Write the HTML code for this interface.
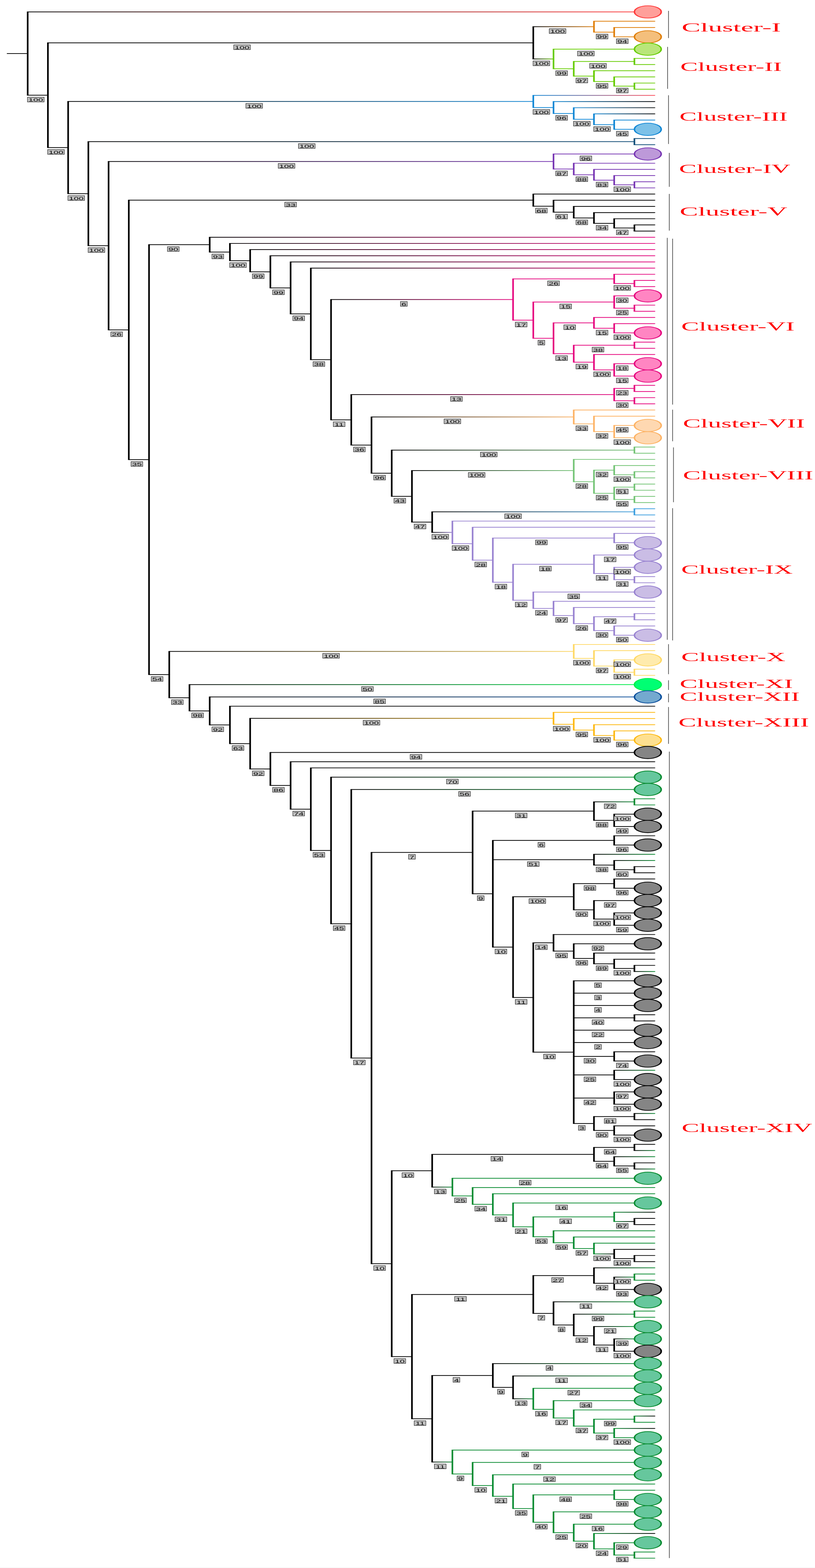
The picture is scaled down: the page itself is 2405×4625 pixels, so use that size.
<!DOCTYPE html>
<html lang="en">
<head>
<meta charset="utf-8">
<title>Phylogenetic tree with clusters</title>
<style>
html,body{margin:0;padding:0;background:#fff;}
body{width:2405px;height:4625px;overflow:hidden;}
svg{display:block;}
.lb rect{fill:#c0c0c0;stroke:#000;stroke-width:1.1;}
.lb text{font-family:"Liberation Sans",Arial,sans-serif;font-size:13.1px;fill:#000;text-anchor:middle;}
.cl text{font-family:"Liberation Serif","Times New Roman",serif;font-size:35.6px;fill:#ff0000;}
</style>
</head>
<body>
<svg width="2405" height="4625" viewBox="0 0 2405 4625">
<defs>
<linearGradient id="g0"><stop offset="0" stop-color="#000000"/><stop offset="1" stop-color="#ff3b3b"/></linearGradient>
<linearGradient id="g1"><stop offset="0" stop-color="#000000"/><stop offset="1" stop-color="#e07f0b"/></linearGradient>
<linearGradient id="g2"><stop offset="0" stop-color="#000000"/><stop offset="1" stop-color="#66cc00"/></linearGradient>
<linearGradient id="g3"><stop offset="0" stop-color="#000000"/><stop offset="1" stop-color="#1187d5"/></linearGradient>
<linearGradient id="g4"><stop offset="0" stop-color="#1187d5"/><stop offset="1" stop-color="#ff4d5a"/></linearGradient>
<linearGradient id="g5"><stop offset="0" stop-color="#1187d5"/><stop offset="1" stop-color="#000000"/></linearGradient>
<linearGradient id="g6"><stop offset="0" stop-color="#000000"/><stop offset="1" stop-color="#124f7a"/></linearGradient>
<linearGradient id="g7"><stop offset="0" stop-color="#000000"/><stop offset="1" stop-color="#7735b3"/></linearGradient>
<linearGradient id="g8"><stop offset="0" stop-color="#000000"/><stop offset="1" stop-color="#e6087f"/></linearGradient>
<linearGradient id="g9"><stop offset="0" stop-color="#000000"/><stop offset="1" stop-color="#fdb365"/></linearGradient>
<linearGradient id="g10"><stop offset="0" stop-color="#000000"/><stop offset="1" stop-color="#74c476"/></linearGradient>
<linearGradient id="g11"><stop offset="0" stop-color="#000000"/><stop offset="1" stop-color="#3fa0e0"/></linearGradient>
<linearGradient id="g12"><stop offset="0" stop-color="#000000"/><stop offset="1" stop-color="#9983d1"/></linearGradient>
<linearGradient id="g13"><stop offset="0" stop-color="#000000"/><stop offset="1" stop-color="#ffd966"/></linearGradient>
<linearGradient id="g14"><stop offset="0" stop-color="#000000"/><stop offset="1" stop-color="#00f04a"/></linearGradient>
<linearGradient id="g15"><stop offset="0" stop-color="#000000"/><stop offset="1" stop-color="#0b4f9c"/></linearGradient>
<linearGradient id="g16"><stop offset="0" stop-color="#000000"/><stop offset="1" stop-color="#fdb913"/></linearGradient>
<linearGradient id="g17"><stop offset="0" stop-color="#000000"/><stop offset="1" stop-color="#0a8c32"/></linearGradient>
<linearGradient id="g18"><stop offset="0" stop-color="#0a8c32"/><stop offset="1" stop-color="#000000"/></linearGradient>
</defs>
<rect width="2405" height="4625" fill="#fff"/>
<g shape-rendering="auto">
<rect x="81.7" y="34.01" width="1789.3" height="2.2" fill="url(#g0)"/>
<rect x="81.7" y="279.72" width="59.68" height="2.2" fill="#000000"/>
<rect x="141.38" y="125.27" width="1432.32" height="2.2" fill="#000000"/>
<rect x="1573.7" y="77.67" width="179.04" height="2.2" fill="url(#g1)"/>
<rect x="1752.74" y="61.59" width="181.06" height="2.2" fill="#e07f0b" rx="2" ry="1.1"/>
<rect x="1752.74" y="93.76" width="59.68" height="2.2" fill="#e07f0b"/>
<rect x="1812.42" y="79.97" width="121.38" height="2.2" fill="#e07f0b" rx="2" ry="1.1"/>
<rect x="1812.42" y="107.55" width="58.58" height="2.2" fill="#e07f0b"/>
<rect x="1573.7" y="172.86" width="59.68" height="2.2" fill="url(#g2)"/>
<rect x="1633.38" y="143.89" width="237.62" height="2.2" fill="#66cc00"/>
<rect x="1633.38" y="201.82" width="59.68" height="2.2" fill="#66cc00"/>
<rect x="1693.06" y="180.23" width="179.04" height="2.2" fill="#66cc00"/>
<rect x="1872.1" y="171.15" width="61.7" height="2.2" fill="#66cc00" rx="2" ry="1.1"/>
<rect x="1872.1" y="189.32" width="61.7" height="2.2" fill="#66cc00" rx="2" ry="1.1"/>
<rect x="1693.06" y="223.42" width="59.68" height="2.2" fill="#66cc00"/>
<rect x="1752.74" y="207.5" width="181.06" height="2.2" fill="#66cc00" rx="2" ry="1.1"/>
<rect x="1752.74" y="239.34" width="59.68" height="2.2" fill="#66cc00"/>
<rect x="1812.42" y="225.69" width="121.38" height="2.2" fill="#66cc00" rx="2" ry="1.1"/>
<rect x="1812.42" y="252.98" width="59.68" height="2.2" fill="#66cc00"/>
<rect x="1872.1" y="243.88" width="61.7" height="2.2" fill="#66cc00" rx="2" ry="1.1"/>
<rect x="1872.1" y="262.08" width="61.7" height="2.2" fill="#66cc00" rx="2" ry="1.1"/>
<rect x="141.38" y="434.17" width="59.68" height="2.2" fill="#000000"/>
<rect x="201.06" y="298.18" width="1372.64" height="2.2" fill="url(#g3)"/>
<rect x="1573.7" y="280.27" width="360.1" height="2.2" fill="url(#g4)" rx="2" ry="1.1"/>
<rect x="1573.7" y="316.09" width="59.68" height="2.2" fill="#1187d5"/>
<rect x="1633.38" y="298.46" width="300.42" height="2.2" fill="url(#g5)" rx="2" ry="1.1"/>
<rect x="1633.38" y="333.71" width="59.68" height="2.2" fill="#1187d5"/>
<rect x="1693.06" y="316.66" width="240.74" height="2.2" fill="url(#g5)" rx="2" ry="1.1"/>
<rect x="1693.06" y="350.77" width="59.68" height="2.2" fill="#1187d5"/>
<rect x="1752.74" y="334.85" width="181.06" height="2.2" fill="url(#g5)" rx="2" ry="1.1"/>
<rect x="1752.74" y="366.69" width="59.68" height="2.2" fill="#1187d5"/>
<rect x="1812.42" y="353.04" width="121.38" height="2.2" fill="#1187d5" rx="2" ry="1.1"/>
<rect x="1812.42" y="380.33" width="58.58" height="2.2" fill="#1187d5"/>
<rect x="201.06" y="570.17" width="59.68" height="2.2" fill="#000000"/>
<rect x="260.74" y="416.72" width="1611.36" height="2.2" fill="url(#g6)"/>
<rect x="1872.1" y="407.62" width="61.7" height="2.2" fill="#124f7a" rx="2" ry="1.1"/>
<rect x="1872.1" y="425.82" width="61.7" height="2.2" fill="#124f7a" rx="2" ry="1.1"/>
<rect x="260.74" y="723.62" width="59.68" height="2.2" fill="#000000"/>
<rect x="320.42" y="475.28" width="1312.96" height="2.2" fill="url(#g7)"/>
<rect x="1633.38" y="453.11" width="237.62" height="2.2" fill="#7735b3"/>
<rect x="1633.38" y="497.45" width="59.68" height="2.2" fill="#7735b3"/>
<rect x="1693.06" y="480.4" width="240.74" height="2.2" fill="#7735b3" rx="2" ry="1.1"/>
<rect x="1693.06" y="514.51" width="59.68" height="2.2" fill="#7735b3"/>
<rect x="1752.74" y="498.59" width="181.06" height="2.2" fill="#7735b3" rx="2" ry="1.1"/>
<rect x="1752.74" y="530.43" width="59.68" height="2.2" fill="#7735b3"/>
<rect x="1812.42" y="516.78" width="121.38" height="2.2" fill="#7735b3" rx="2" ry="1.1"/>
<rect x="1812.42" y="544.07" width="59.68" height="2.2" fill="#7735b3"/>
<rect x="1872.1" y="534.98" width="61.7" height="2.2" fill="#7735b3" rx="2" ry="1.1"/>
<rect x="1872.1" y="553.17" width="61.7" height="2.2" fill="#7735b3" rx="2" ry="1.1"/>
<rect x="320.42" y="971.96" width="59.68" height="2.2" fill="#000000"/>
<rect x="380.1" y="589.27" width="1193.6" height="2.2" fill="#000000"/>
<rect x="1573.7" y="571.36" width="360.1" height="2.2" fill="#000000" rx="2" ry="1.1"/>
<rect x="1573.7" y="607.18" width="59.68" height="2.2" fill="#000000"/>
<rect x="1633.38" y="589.56" width="300.42" height="2.2" fill="#000000" rx="2" ry="1.1"/>
<rect x="1633.38" y="624.81" width="59.68" height="2.2" fill="#000000"/>
<rect x="1693.06" y="607.75" width="240.74" height="2.2" fill="#000000" rx="2" ry="1.1"/>
<rect x="1693.06" y="641.86" width="59.68" height="2.2" fill="#000000"/>
<rect x="1752.74" y="625.94" width="181.06" height="2.2" fill="#000000" rx="2" ry="1.1"/>
<rect x="1752.74" y="657.78" width="59.68" height="2.2" fill="#000000"/>
<rect x="1812.42" y="644.14" width="121.38" height="2.2" fill="#000000" rx="2" ry="1.1"/>
<rect x="1812.42" y="671.43" width="59.68" height="2.2" fill="#000000"/>
<rect x="1872.1" y="662.33" width="61.7" height="2.2" fill="#000000" rx="2" ry="1.1"/>
<rect x="1872.1" y="680.52" width="61.7" height="2.2" fill="#000000" rx="2" ry="1.1"/>
<rect x="380.1" y="1354.64" width="59.68" height="2.2" fill="#000000"/>
<rect x="439.78" y="720.56" width="179.04" height="2.2" fill="#000000"/>
<rect x="618.82" y="698.72" width="1314.98" height="2.2" fill="url(#g8)" rx="2" ry="1.1"/>
<rect x="618.82" y="742.41" width="59.68" height="2.2" fill="#000000"/>
<rect x="678.5" y="716.91" width="1255.3" height="2.2" fill="url(#g8)" rx="2" ry="1.1"/>
<rect x="678.5" y="767.91" width="59.68" height="2.2" fill="#000000"/>
<rect x="738.18" y="735.1" width="1195.62" height="2.2" fill="url(#g8)" rx="2" ry="1.1"/>
<rect x="738.18" y="800.72" width="59.68" height="2.2" fill="#000000"/>
<rect x="797.86" y="753.3" width="1135.94" height="2.2" fill="url(#g8)" rx="2" ry="1.1"/>
<rect x="797.86" y="848.14" width="59.68" height="2.2" fill="#000000"/>
<rect x="857.54" y="771.5" width="1076.26" height="2.2" fill="url(#g8)" rx="2" ry="1.1"/>
<rect x="857.54" y="924.77" width="59.68" height="2.2" fill="#000000"/>
<rect x="917.22" y="789.7" width="1016.58" height="2.2" fill="url(#g8)" rx="2" ry="1.1"/>
<rect x="917.22" y="1059.85" width="59.68" height="2.2" fill="#000000"/>
<rect x="976.9" y="882.41" width="537.12" height="2.2" fill="url(#g8)"/>
<rect x="1514.02" y="821.55" width="298.4" height="2.2" fill="#e6087f"/>
<rect x="1812.42" y="807.9" width="121.38" height="2.2" fill="#e6087f" rx="2" ry="1.1"/>
<rect x="1812.42" y="835.2" width="59.68" height="2.2" fill="#e6087f"/>
<rect x="1872.1" y="826.1" width="61.7" height="2.2" fill="#e6087f" rx="2" ry="1.1"/>
<rect x="1872.1" y="844.3" width="61.7" height="2.2" fill="#e6087f" rx="2" ry="1.1"/>
<rect x="1514.02" y="943.26" width="59.68" height="2.2" fill="#e6087f"/>
<rect x="1573.7" y="889.8" width="238.72" height="2.2" fill="#e6087f"/>
<rect x="1812.42" y="871.6" width="58.58" height="2.2" fill="#e6087f"/>
<rect x="1812.42" y="908" width="59.68" height="2.2" fill="#e6087f"/>
<rect x="1872.1" y="898.9" width="61.7" height="2.2" fill="#e6087f" rx="2" ry="1.1"/>
<rect x="1872.1" y="917.1" width="61.7" height="2.2" fill="#e6087f" rx="2" ry="1.1"/>
<rect x="1573.7" y="996.73" width="59.68" height="2.2" fill="#e6087f"/>
<rect x="1633.38" y="951.23" width="119.36" height="2.2" fill="#e6087f"/>
<rect x="1752.74" y="935.3" width="181.06" height="2.2" fill="#e6087f" rx="2" ry="1.1"/>
<rect x="1752.74" y="967.15" width="59.68" height="2.2" fill="#e6087f"/>
<rect x="1812.42" y="953.5" width="121.38" height="2.2" fill="#e6087f" rx="2" ry="1.1"/>
<rect x="1812.42" y="980.8" width="58.58" height="2.2" fill="#e6087f"/>
<rect x="1633.38" y="1042.23" width="59.68" height="2.2" fill="#e6087f"/>
<rect x="1693.06" y="1017.2" width="179.04" height="2.2" fill="#e6087f"/>
<rect x="1872.1" y="1008.1" width="61.7" height="2.2" fill="#e6087f" rx="2" ry="1.1"/>
<rect x="1872.1" y="1026.3" width="61.7" height="2.2" fill="#e6087f" rx="2" ry="1.1"/>
<rect x="1693.06" y="1067.25" width="59.68" height="2.2" fill="#e6087f"/>
<rect x="1752.74" y="1044.5" width="181.06" height="2.2" fill="#e6087f" rx="2" ry="1.1"/>
<rect x="1752.74" y="1090" width="59.68" height="2.2" fill="#e6087f"/>
<rect x="1812.42" y="1071.8" width="58.58" height="2.2" fill="#e6087f"/>
<rect x="1812.42" y="1108.2" width="58.58" height="2.2" fill="#e6087f"/>
<rect x="976.9" y="1237.29" width="59.68" height="2.2" fill="#000000"/>
<rect x="1036.58" y="1162.8" width="775.84" height="2.2" fill="url(#g8)"/>
<rect x="1812.42" y="1144.6" width="59.68" height="2.2" fill="#e6087f"/>
<rect x="1872.1" y="1135.5" width="61.7" height="2.2" fill="#e6087f" rx="2" ry="1.1"/>
<rect x="1872.1" y="1153.7" width="61.7" height="2.2" fill="#e6087f" rx="2" ry="1.1"/>
<rect x="1812.42" y="1181" width="59.68" height="2.2" fill="#e6087f"/>
<rect x="1872.1" y="1171.9" width="61.7" height="2.2" fill="#e6087f" rx="2" ry="1.1"/>
<rect x="1872.1" y="1190.1" width="61.7" height="2.2" fill="#e6087f" rx="2" ry="1.1"/>
<rect x="1036.58" y="1311.77" width="59.68" height="2.2" fill="#000000"/>
<rect x="1096.26" y="1228.78" width="596.8" height="2.2" fill="url(#g9)"/>
<rect x="1693.06" y="1208.3" width="240.74" height="2.2" fill="#fdb365" rx="2" ry="1.1"/>
<rect x="1693.06" y="1249.25" width="59.68" height="2.2" fill="#fdb365"/>
<rect x="1752.74" y="1226.5" width="181.06" height="2.2" fill="#fdb365" rx="2" ry="1.1"/>
<rect x="1752.74" y="1272" width="59.68" height="2.2" fill="#fdb365"/>
<rect x="1812.42" y="1253.8" width="58.58" height="2.2" fill="#fdb365"/>
<rect x="1812.42" y="1290.2" width="58.58" height="2.2" fill="#fdb365"/>
<rect x="1096.26" y="1394.76" width="59.68" height="2.2" fill="#000000"/>
<rect x="1155.94" y="1326.6" width="716.16" height="2.2" fill="url(#g10)"/>
<rect x="1872.1" y="1317.5" width="61.7" height="2.2" fill="#74c476" rx="2" ry="1.1"/>
<rect x="1872.1" y="1335.7" width="61.7" height="2.2" fill="#74c476" rx="2" ry="1.1"/>
<rect x="1155.94" y="1462.91" width="59.68" height="2.2" fill="#000000"/>
<rect x="1215.62" y="1386.89" width="477.44" height="2.2" fill="url(#g10)"/>
<rect x="1693.06" y="1353.9" width="240.74" height="2.2" fill="#74c476" rx="2" ry="1.1"/>
<rect x="1693.06" y="1419.88" width="59.68" height="2.2" fill="#74c476"/>
<rect x="1752.74" y="1385.75" width="59.68" height="2.2" fill="#74c476"/>
<rect x="1812.42" y="1372.1" width="121.38" height="2.2" fill="#74c476" rx="2" ry="1.1"/>
<rect x="1812.42" y="1399.4" width="59.68" height="2.2" fill="#74c476"/>
<rect x="1872.1" y="1390.3" width="61.7" height="2.2" fill="#74c476" rx="2" ry="1.1"/>
<rect x="1872.1" y="1408.5" width="61.7" height="2.2" fill="#74c476" rx="2" ry="1.1"/>
<rect x="1752.74" y="1454" width="59.68" height="2.2" fill="#74c476"/>
<rect x="1812.42" y="1435.8" width="59.68" height="2.2" fill="#74c476"/>
<rect x="1872.1" y="1426.7" width="61.7" height="2.2" fill="#74c476" rx="2" ry="1.1"/>
<rect x="1872.1" y="1444.9" width="61.7" height="2.2" fill="#74c476" rx="2" ry="1.1"/>
<rect x="1812.42" y="1472.2" width="59.68" height="2.2" fill="#74c476"/>
<rect x="1872.1" y="1463.1" width="61.7" height="2.2" fill="#74c476" rx="2" ry="1.1"/>
<rect x="1872.1" y="1481.31" width="61.7" height="2.2" fill="#74c476" rx="2" ry="1.1"/>
<rect x="1215.62" y="1538.94" width="59.68" height="2.2" fill="#000000"/>
<rect x="1275.3" y="1508.61" width="596.8" height="2.2" fill="url(#g11)"/>
<rect x="1872.1" y="1499.51" width="61.7" height="2.2" fill="#3fa0e0" rx="2" ry="1.1"/>
<rect x="1872.1" y="1517.71" width="61.7" height="2.2" fill="#3fa0e0" rx="2" ry="1.1"/>
<rect x="1275.3" y="1569.27" width="59.68" height="2.2" fill="url(#g12)"/>
<rect x="1334.98" y="1535.91" width="598.82" height="2.2" fill="#9983d1" rx="2" ry="1.1"/>
<rect x="1334.98" y="1602.63" width="59.68" height="2.2" fill="#9983d1"/>
<rect x="1394.66" y="1554.11" width="539.14" height="2.2" fill="#9983d1" rx="2" ry="1.1"/>
<rect x="1394.66" y="1651.15" width="59.68" height="2.2" fill="#9983d1"/>
<rect x="1454.34" y="1585.96" width="358.08" height="2.2" fill="#9983d1"/>
<rect x="1812.42" y="1572.31" width="121.38" height="2.2" fill="#9983d1" rx="2" ry="1.1"/>
<rect x="1812.42" y="1599.61" width="58.58" height="2.2" fill="#9983d1"/>
<rect x="1454.34" y="1716.34" width="59.68" height="2.2" fill="#9983d1"/>
<rect x="1514.02" y="1663.31" width="238.72" height="2.2" fill="#9983d1"/>
<rect x="1752.74" y="1636.01" width="118.26" height="2.2" fill="#9983d1"/>
<rect x="1752.74" y="1690.61" width="59.68" height="2.2" fill="#9983d1"/>
<rect x="1812.42" y="1672.41" width="58.58" height="2.2" fill="#9983d1"/>
<rect x="1812.42" y="1708.81" width="59.68" height="2.2" fill="#9983d1"/>
<rect x="1872.1" y="1699.71" width="61.7" height="2.2" fill="#9983d1" rx="2" ry="1.1"/>
<rect x="1872.1" y="1717.91" width="61.7" height="2.2" fill="#9983d1" rx="2" ry="1.1"/>
<rect x="1514.02" y="1769.38" width="59.68" height="2.2" fill="#9983d1"/>
<rect x="1573.7" y="1745.21" width="297.3" height="2.2" fill="#9983d1"/>
<rect x="1573.7" y="1793.55" width="59.68" height="2.2" fill="#9983d1"/>
<rect x="1633.38" y="1772.51" width="300.42" height="2.2" fill="#9983d1" rx="2" ry="1.1"/>
<rect x="1633.38" y="1814.59" width="59.68" height="2.2" fill="#9983d1"/>
<rect x="1693.06" y="1790.71" width="240.74" height="2.2" fill="#9983d1" rx="2" ry="1.1"/>
<rect x="1693.06" y="1838.48" width="59.68" height="2.2" fill="#9983d1"/>
<rect x="1752.74" y="1818.01" width="119.36" height="2.2" fill="#9983d1"/>
<rect x="1872.1" y="1808.91" width="61.7" height="2.2" fill="#9983d1" rx="2" ry="1.1"/>
<rect x="1872.1" y="1827.11" width="61.7" height="2.2" fill="#9983d1" rx="2" ry="1.1"/>
<rect x="1752.74" y="1858.96" width="59.68" height="2.2" fill="#9983d1"/>
<rect x="1812.42" y="1845.31" width="121.38" height="2.2" fill="#9983d1" rx="2" ry="1.1"/>
<rect x="1812.42" y="1872.61" width="58.58" height="2.2" fill="#9983d1"/>
<rect x="439.78" y="1988.71" width="59.68" height="2.2" fill="#000000"/>
<rect x="499.46" y="1920.38" width="1193.6" height="2.2" fill="url(#g13)"/>
<rect x="1693.06" y="1899.91" width="240.74" height="2.2" fill="#ffd966" rx="2" ry="1.1"/>
<rect x="1693.06" y="1940.86" width="59.68" height="2.2" fill="#ffd966"/>
<rect x="1752.74" y="1918.11" width="181.06" height="2.2" fill="#ffd966" rx="2" ry="1.1"/>
<rect x="1752.74" y="1963.61" width="59.68" height="2.2" fill="#ffd966"/>
<rect x="1812.42" y="1945.41" width="58.58" height="2.2" fill="#ffd966"/>
<rect x="1812.42" y="1981.81" width="59.68" height="2.2" fill="#ffd966"/>
<rect x="1872.1" y="1972.71" width="61.7" height="2.2" fill="#ffd966" rx="2" ry="1.1"/>
<rect x="1872.1" y="1990.91" width="61.7" height="2.2" fill="#ffd966" rx="2" ry="1.1"/>
<rect x="499.46" y="2057.04" width="59.68" height="2.2" fill="#000000"/>
<rect x="559.14" y="2018.21" width="1311.86" height="2.2" fill="url(#g14)"/>
<rect x="559.14" y="2095.88" width="59.68" height="2.2" fill="#000000"/>
<rect x="618.82" y="2054.61" width="1252.18" height="2.2" fill="url(#g15)"/>
<rect x="618.82" y="2137.15" width="59.68" height="2.2" fill="#000000"/>
<rect x="678.5" y="2081.91" width="1255.3" height="2.2" fill="#000000" rx="2" ry="1.1"/>
<rect x="678.5" y="2192.4" width="59.68" height="2.2" fill="#000000"/>
<rect x="738.18" y="2117.74" width="895.2" height="2.2" fill="url(#g16)"/>
<rect x="1633.38" y="2100.11" width="300.42" height="2.2" fill="#fdb913" rx="2" ry="1.1"/>
<rect x="1633.38" y="2135.37" width="59.68" height="2.2" fill="#fdb913"/>
<rect x="1693.06" y="2118.31" width="240.74" height="2.2" fill="#fdb913" rx="2" ry="1.1"/>
<rect x="1693.06" y="2152.43" width="59.68" height="2.2" fill="#fdb913"/>
<rect x="1752.74" y="2136.51" width="181.06" height="2.2" fill="#fdb913" rx="2" ry="1.1"/>
<rect x="1752.74" y="2168.36" width="59.68" height="2.2" fill="#fdb913"/>
<rect x="1812.42" y="2154.71" width="121.38" height="2.2" fill="#fdb913" rx="2" ry="1.1"/>
<rect x="1812.42" y="2182.01" width="58.58" height="2.2" fill="#fdb913"/>
<rect x="738.18" y="2267.06" width="59.68" height="2.2" fill="#000000"/>
<rect x="797.86" y="2218.41" width="1073.14" height="2.2" fill="#000000"/>
<rect x="797.86" y="2315.7" width="59.68" height="2.2" fill="#000000"/>
<rect x="857.54" y="2245.71" width="1076.26" height="2.2" fill="#000000" rx="2" ry="1.1"/>
<rect x="857.54" y="2385.69" width="59.68" height="2.2" fill="#000000"/>
<rect x="917.22" y="2263.92" width="1016.58" height="2.2" fill="#000000" rx="2" ry="1.1"/>
<rect x="917.22" y="2507.46" width="59.68" height="2.2" fill="#000000"/>
<rect x="976.9" y="2291.22" width="894.1" height="2.2" fill="url(#g17)"/>
<rect x="976.9" y="2723.7" width="59.68" height="2.2" fill="#000000"/>
<rect x="1036.58" y="2327.63" width="834.42" height="2.2" fill="url(#g17)"/>
<rect x="1036.58" y="3119.77" width="59.68" height="2.2" fill="#000000"/>
<rect x="1096.26" y="2513.24" width="298.4" height="2.2" fill="#000000"/>
<rect x="1394.66" y="2391.34" width="358.08" height="2.2" fill="#000000"/>
<rect x="1752.74" y="2364.03" width="119.36" height="2.2" fill="url(#g17)"/>
<rect x="1872.1" y="2354.93" width="61.7" height="2.2" fill="#0a8c32" rx="2" ry="1.1"/>
<rect x="1872.1" y="2373.13" width="61.7" height="2.2" fill="#0a8c32" rx="2" ry="1.1"/>
<rect x="1752.74" y="2418.64" width="59.68" height="2.2" fill="#000000"/>
<rect x="1812.42" y="2400.44" width="58.58" height="2.2" fill="#000000"/>
<rect x="1812.42" y="2436.84" width="58.58" height="2.2" fill="#000000"/>
<rect x="1394.66" y="2635.15" width="59.68" height="2.2" fill="#000000"/>
<rect x="1454.34" y="2477.8" width="358.08" height="2.2" fill="#000000"/>
<rect x="1812.42" y="2464.15" width="121.38" height="2.2" fill="#000000" rx="2" ry="1.1"/>
<rect x="1812.42" y="2491.45" width="58.58" height="2.2" fill="#000000"/>
<rect x="1454.34" y="2534.68" width="298.4" height="2.2" fill="#000000"/>
<rect x="1752.74" y="2518.76" width="181.06" height="2.2" fill="url(#g17)" rx="2" ry="1.1"/>
<rect x="1752.74" y="2550.61" width="59.68" height="2.2" fill="#000000"/>
<rect x="1812.42" y="2536.96" width="121.38" height="2.2" fill="url(#g17)" rx="2" ry="1.1"/>
<rect x="1812.42" y="2564.26" width="59.68" height="2.2" fill="#000000"/>
<rect x="1872.1" y="2555.16" width="61.7" height="2.2" fill="#000000" rx="2" ry="1.1"/>
<rect x="1872.1" y="2573.36" width="61.7" height="2.2" fill="#000000" rx="2" ry="1.1"/>
<rect x="1454.34" y="2792.51" width="59.68" height="2.2" fill="#000000"/>
<rect x="1514.02" y="2643.9" width="179.04" height="2.2" fill="#000000"/>
<rect x="1693.06" y="2605.22" width="119.36" height="2.2" fill="#000000"/>
<rect x="1812.42" y="2591.57" width="121.38" height="2.2" fill="#000000" rx="2" ry="1.1"/>
<rect x="1812.42" y="2618.87" width="58.58" height="2.2" fill="#000000"/>
<rect x="1693.06" y="2682.58" width="59.68" height="2.2" fill="#000000"/>
<rect x="1752.74" y="2655.28" width="118.26" height="2.2" fill="#000000"/>
<rect x="1752.74" y="2709.88" width="59.68" height="2.2" fill="#000000"/>
<rect x="1812.42" y="2691.68" width="58.58" height="2.2" fill="#000000"/>
<rect x="1812.42" y="2728.09" width="58.58" height="2.2" fill="#000000"/>
<rect x="1514.02" y="2941.12" width="59.68" height="2.2" fill="#000000"/>
<rect x="1573.7" y="2779.85" width="59.68" height="2.2" fill="#000000"/>
<rect x="1633.38" y="2755.39" width="300.42" height="2.2" fill="#000000" rx="2" ry="1.1"/>
<rect x="1633.38" y="2804.31" width="59.68" height="2.2" fill="#000000"/>
<rect x="1693.06" y="2782.7" width="177.94" height="2.2" fill="#000000"/>
<rect x="1693.06" y="2825.93" width="59.68" height="2.2" fill="#000000"/>
<rect x="1752.74" y="2810" width="181.06" height="2.2" fill="#000000" rx="2" ry="1.1"/>
<rect x="1752.74" y="2841.85" width="59.68" height="2.2" fill="#000000"/>
<rect x="1812.42" y="2828.2" width="121.38" height="2.2" fill="#000000" rx="2" ry="1.1"/>
<rect x="1812.42" y="2855.51" width="59.68" height="2.2" fill="#000000"/>
<rect x="1872.1" y="2846.41" width="61.7" height="2.2" fill="#000000" rx="2" ry="1.1"/>
<rect x="1872.1" y="2864.61" width="61.7" height="2.2" fill="url(#g17)" rx="2" ry="1.1"/>
<rect x="1573.7" y="3102.38" width="119.36" height="2.2" fill="#000000"/>
<rect x="1693.06" y="2891.91" width="177.94" height="2.2" fill="#000000"/>
<rect x="1693.06" y="2928.32" width="177.94" height="2.2" fill="#000000"/>
<rect x="1693.06" y="2964.72" width="177.94" height="2.2" fill="#000000"/>
<rect x="1693.06" y="3001.13" width="179.04" height="2.2" fill="#000000"/>
<rect x="1872.1" y="2992.03" width="61.7" height="2.2" fill="#000000" rx="2" ry="1.1"/>
<rect x="1872.1" y="3010.23" width="61.7" height="2.2" fill="#000000" rx="2" ry="1.1"/>
<rect x="1693.06" y="3037.53" width="177.94" height="2.2" fill="#000000"/>
<rect x="1693.06" y="3073.94" width="177.94" height="2.2" fill="#000000"/>
<rect x="1693.06" y="3114.9" width="119.36" height="2.2" fill="#000000"/>
<rect x="1812.42" y="3101.24" width="121.38" height="2.2" fill="#000000" rx="2" ry="1.1"/>
<rect x="1812.42" y="3128.55" width="58.58" height="2.2" fill="#000000"/>
<rect x="1693.06" y="3169.5" width="119.36" height="2.2" fill="#000000"/>
<rect x="1812.42" y="3155.85" width="121.38" height="2.2" fill="url(#g17)" rx="2" ry="1.1"/>
<rect x="1812.42" y="3183.16" width="58.58" height="2.2" fill="#000000"/>
<rect x="1693.06" y="3237.76" width="119.36" height="2.2" fill="#000000"/>
<rect x="1812.42" y="3219.56" width="58.58" height="2.2" fill="#000000"/>
<rect x="1812.42" y="3255.97" width="58.58" height="2.2" fill="#000000"/>
<rect x="1693.06" y="3312.85" width="59.68" height="2.2" fill="#000000"/>
<rect x="1752.74" y="3292.37" width="119.36" height="2.2" fill="#000000"/>
<rect x="1872.1" y="3283.27" width="61.7" height="2.2" fill="url(#g17)" rx="2" ry="1.1"/>
<rect x="1872.1" y="3301.47" width="61.7" height="2.2" fill="#000000" rx="2" ry="1.1"/>
<rect x="1752.74" y="3333.33" width="59.68" height="2.2" fill="#000000"/>
<rect x="1812.42" y="3319.68" width="121.38" height="2.2" fill="#000000" rx="2" ry="1.1"/>
<rect x="1812.42" y="3346.98" width="58.58" height="2.2" fill="#000000"/>
<rect x="1096.26" y="3726.29" width="59.68" height="2.2" fill="#000000"/>
<rect x="1155.94" y="3452.15" width="119.36" height="2.2" fill="#000000"/>
<rect x="1275.3" y="3403.86" width="477.44" height="2.2" fill="#000000"/>
<rect x="1752.74" y="3383.39" width="119.36" height="2.2" fill="#000000"/>
<rect x="1872.1" y="3374.28" width="61.7" height="2.2" fill="#000000" rx="2" ry="1.1"/>
<rect x="1872.1" y="3392.49" width="61.7" height="2.2" fill="url(#g17)" rx="2" ry="1.1"/>
<rect x="1752.74" y="3424.34" width="59.68" height="2.2" fill="#000000"/>
<rect x="1812.42" y="3410.69" width="121.38" height="2.2" fill="url(#g17)" rx="2" ry="1.1"/>
<rect x="1812.42" y="3437.99" width="59.68" height="2.2" fill="#000000"/>
<rect x="1872.1" y="3428.89" width="61.7" height="2.2" fill="#000000" rx="2" ry="1.1"/>
<rect x="1872.1" y="3447.1" width="61.7" height="2.2" fill="url(#g17)" rx="2" ry="1.1"/>
<rect x="1275.3" y="3500.43" width="59.68" height="2.2" fill="url(#g17)"/>
<rect x="1334.98" y="3474.4" width="536.02" height="2.2" fill="#0a8c32"/>
<rect x="1334.98" y="3526.46" width="59.68" height="2.2" fill="#0a8c32"/>
<rect x="1394.66" y="3501.73" width="539.14" height="2.2" fill="#0a8c32" rx="2" ry="1.1"/>
<rect x="1394.66" y="3551.19" width="59.68" height="2.2" fill="#0a8c32"/>
<rect x="1454.34" y="3519.95" width="479.46" height="2.2" fill="#0a8c32" rx="2" ry="1.1"/>
<rect x="1454.34" y="3582.44" width="59.68" height="2.2" fill="#0a8c32"/>
<rect x="1514.02" y="3547.28" width="356.98" height="2.2" fill="#0a8c32"/>
<rect x="1514.02" y="3617.6" width="59.68" height="2.2" fill="#0a8c32"/>
<rect x="1573.7" y="3588.27" width="238.72" height="2.2" fill="#0a8c32"/>
<rect x="1812.42" y="3574.61" width="121.38" height="2.2" fill="url(#g18)" rx="2" ry="1.1"/>
<rect x="1812.42" y="3601.94" width="59.68" height="2.2" fill="url(#g18)"/>
<rect x="1872.1" y="3592.83" width="61.7" height="2.2" fill="#000000" rx="2" ry="1.1"/>
<rect x="1872.1" y="3611.05" width="61.7" height="2.2" fill="#000000" rx="2" ry="1.1"/>
<rect x="1573.7" y="3646.92" width="59.68" height="2.2" fill="#0a8c32"/>
<rect x="1633.38" y="3629.27" width="300.42" height="2.2" fill="#0a8c32" rx="2" ry="1.1"/>
<rect x="1633.38" y="3664.57" width="59.68" height="2.2" fill="#0a8c32"/>
<rect x="1693.06" y="3647.49" width="240.74" height="2.2" fill="#0a8c32" rx="2" ry="1.1"/>
<rect x="1693.06" y="3681.65" width="59.68" height="2.2" fill="#0a8c32"/>
<rect x="1752.74" y="3665.71" width="181.06" height="2.2" fill="#0a8c32" rx="2" ry="1.1"/>
<rect x="1752.74" y="3697.59" width="59.68" height="2.2" fill="url(#g18)"/>
<rect x="1812.42" y="3683.93" width="121.38" height="2.2" fill="#000000" rx="2" ry="1.1"/>
<rect x="1812.42" y="3711.26" width="59.68" height="2.2" fill="#000000"/>
<rect x="1872.1" y="3702.15" width="61.7" height="2.2" fill="#000000" rx="2" ry="1.1"/>
<rect x="1872.1" y="3720.37" width="61.7" height="2.2" fill="#000000" rx="2" ry="1.1"/>
<rect x="1155.94" y="4000.43" width="59.68" height="2.2" fill="#000000"/>
<rect x="1215.62" y="3817.16" width="358.08" height="2.2" fill="#000000"/>
<rect x="1573.7" y="3761.36" width="179.04" height="2.2" fill="#000000"/>
<rect x="1752.74" y="3738.59" width="181.06" height="2.2" fill="url(#g17)" rx="2" ry="1.1"/>
<rect x="1752.74" y="3784.13" width="59.68" height="2.2" fill="#000000"/>
<rect x="1812.42" y="3765.91" width="59.68" height="2.2" fill="url(#g17)"/>
<rect x="1872.1" y="3756.81" width="61.7" height="2.2" fill="#0a8c32" rx="2" ry="1.1"/>
<rect x="1872.1" y="3775.02" width="61.7" height="2.2" fill="#0a8c32" rx="2" ry="1.1"/>
<rect x="1812.42" y="3802.35" width="58.58" height="2.2" fill="#000000"/>
<rect x="1573.7" y="3872.96" width="59.68" height="2.2" fill="#000000"/>
<rect x="1633.38" y="3838.79" width="237.62" height="2.2" fill="url(#g17)"/>
<rect x="1633.38" y="3907.12" width="59.68" height="2.2" fill="#000000"/>
<rect x="1693.06" y="3875.23" width="179.04" height="2.2" fill="url(#g17)"/>
<rect x="1872.1" y="3866.12" width="61.7" height="2.2" fill="#0a8c32" rx="2" ry="1.1"/>
<rect x="1872.1" y="3884.34" width="61.7" height="2.2" fill="#0a8c32" rx="2" ry="1.1"/>
<rect x="1693.06" y="3939" width="59.68" height="2.2" fill="#000000"/>
<rect x="1752.74" y="3911.67" width="118.26" height="2.2" fill="url(#g17)"/>
<rect x="1752.74" y="3966.33" width="59.68" height="2.2" fill="#000000"/>
<rect x="1812.42" y="3948.11" width="58.58" height="2.2" fill="url(#g17)"/>
<rect x="1812.42" y="3984.55" width="58.58" height="2.2" fill="#000000"/>
<rect x="1215.62" y="4183.7" width="59.68" height="2.2" fill="#000000"/>
<rect x="1275.3" y="4056.08" width="179.04" height="2.2" fill="#000000"/>
<rect x="1454.34" y="4020.99" width="416.66" height="2.2" fill="url(#g17)"/>
<rect x="1454.34" y="4091.16" width="59.68" height="2.2" fill="#000000"/>
<rect x="1514.02" y="4057.43" width="356.98" height="2.2" fill="url(#g17)"/>
<rect x="1514.02" y="4124.9" width="59.68" height="2.2" fill="url(#g17)"/>
<rect x="1573.7" y="4093.87" width="297.3" height="2.2" fill="#0a8c32"/>
<rect x="1573.7" y="4155.93" width="59.68" height="2.2" fill="#0a8c32"/>
<rect x="1633.38" y="4130.31" width="237.62" height="2.2" fill="#0a8c32"/>
<rect x="1633.38" y="4181.55" width="59.68" height="2.2" fill="#0a8c32"/>
<rect x="1693.06" y="4157.64" width="240.74" height="2.2" fill="#0a8c32" rx="2" ry="1.1"/>
<rect x="1693.06" y="4205.46" width="59.68" height="2.2" fill="#0a8c32"/>
<rect x="1752.74" y="4184.97" width="119.36" height="2.2" fill="#0a8c32"/>
<rect x="1872.1" y="4175.86" width="61.7" height="2.2" fill="url(#g18)" rx="2" ry="1.1"/>
<rect x="1872.1" y="4194.08" width="61.7" height="2.2" fill="#0a8c32" rx="2" ry="1.1"/>
<rect x="1752.74" y="4225.96" width="59.68" height="2.2" fill="#0a8c32"/>
<rect x="1812.42" y="4212.3" width="121.38" height="2.2" fill="url(#g18)" rx="2" ry="1.1"/>
<rect x="1812.42" y="4239.63" width="58.58" height="2.2" fill="#0a8c32"/>
<rect x="1275.3" y="4311.33" width="59.68" height="2.2" fill="url(#g17)"/>
<rect x="1334.98" y="4276.07" width="536.02" height="2.2" fill="#0a8c32"/>
<rect x="1334.98" y="4346.6" width="59.68" height="2.2" fill="#0a8c32"/>
<rect x="1394.66" y="4312.51" width="476.34" height="2.2" fill="#0a8c32"/>
<rect x="1394.66" y="4380.69" width="59.68" height="2.2" fill="#0a8c32"/>
<rect x="1454.34" y="4348.94" width="416.66" height="2.2" fill="#0a8c32"/>
<rect x="1454.34" y="4412.43" width="59.68" height="2.2" fill="#0a8c32"/>
<rect x="1514.02" y="4376.27" width="419.78" height="2.2" fill="#0a8c32" rx="2" ry="1.1"/>
<rect x="1514.02" y="4448.58" width="59.68" height="2.2" fill="#0a8c32"/>
<rect x="1573.7" y="4408.16" width="238.72" height="2.2" fill="#0a8c32"/>
<rect x="1812.42" y="4394.49" width="121.38" height="2.2" fill="#0a8c32" rx="2" ry="1.1"/>
<rect x="1812.42" y="4421.82" width="58.58" height="2.2" fill="#0a8c32"/>
<rect x="1573.7" y="4489.01" width="59.68" height="2.2" fill="#0a8c32"/>
<rect x="1633.38" y="4458.26" width="237.62" height="2.2" fill="#0a8c32"/>
<rect x="1633.38" y="4519.75" width="59.68" height="2.2" fill="#0a8c32"/>
<rect x="1693.06" y="4494.7" width="177.94" height="2.2" fill="#0a8c32"/>
<rect x="1693.06" y="4544.81" width="59.68" height="2.2" fill="#0a8c32"/>
<rect x="1752.74" y="4522.03" width="181.06" height="2.2" fill="url(#g18)" rx="2" ry="1.1"/>
<rect x="1752.74" y="4567.58" width="59.68" height="2.2" fill="#0a8c32"/>
<rect x="1812.42" y="4549.36" width="58.58" height="2.2" fill="#0a8c32"/>
<rect x="1812.42" y="4585.8" width="59.68" height="2.2" fill="#0a8c32"/>
<rect x="1872.1" y="4576.69" width="61.7" height="2.2" fill="#0a8c32" rx="2" ry="1.1"/>
<rect x="1872.1" y="4594.91" width="61.7" height="2.2" fill="#0a8c32" rx="2" ry="1.1"/>
<rect x="20.2" y="156.91" width="61.5" height="2.1" fill="#000"/>
<rect x="79.3" y="34.01" width="4.8" height="247.91" fill="#000000"/>
<rect x="138.98" y="125.27" width="4.8" height="311.11" fill="#000000"/>
<rect x="1571.3" y="77.67" width="4.8" height="97.38" fill="#000000"/>
<rect x="1750.34" y="61.59" width="4.8" height="34.37" fill="#e07f0b"/>
<rect x="1810.02" y="79.97" width="4.8" height="29.78" fill="#e07f0b"/>
<rect x="1630.98" y="143.89" width="4.8" height="60.13" fill="#66cc00"/>
<rect x="1690.66" y="180.23" width="4.8" height="45.39" fill="#66cc00"/>
<rect x="1869.7" y="171.15" width="4.8" height="20.37" fill="#66cc00"/>
<rect x="1750.34" y="207.5" width="4.8" height="34.04" fill="#66cc00"/>
<rect x="1810.02" y="225.69" width="4.8" height="29.49" fill="#66cc00"/>
<rect x="1869.7" y="243.88" width="4.8" height="20.39" fill="#66cc00"/>
<rect x="198.66" y="298.18" width="4.8" height="274.19" fill="#000000"/>
<rect x="1571.3" y="280.27" width="4.8" height="38.02" fill="#1187d5"/>
<rect x="1630.98" y="298.46" width="4.8" height="37.45" fill="#1187d5"/>
<rect x="1690.66" y="316.66" width="4.8" height="36.31" fill="#1187d5"/>
<rect x="1750.34" y="334.85" width="4.8" height="34.04" fill="#1187d5"/>
<rect x="1810.02" y="353.04" width="4.8" height="29.49" fill="#1187d5"/>
<rect x="258.34" y="416.72" width="4.8" height="309.1" fill="#000000"/>
<rect x="1869.7" y="407.62" width="4.8" height="20.39" fill="#124f7a"/>
<rect x="318.02" y="475.28" width="4.8" height="498.88" fill="#000000"/>
<rect x="1630.98" y="453.11" width="4.8" height="46.55" fill="#7735b3"/>
<rect x="1690.66" y="480.4" width="4.8" height="36.31" fill="#7735b3"/>
<rect x="1750.34" y="498.59" width="4.8" height="34.04" fill="#7735b3"/>
<rect x="1810.02" y="516.78" width="4.8" height="29.49" fill="#7735b3"/>
<rect x="1869.7" y="534.98" width="4.8" height="20.39" fill="#7735b3"/>
<rect x="377.7" y="589.27" width="4.8" height="767.57" fill="#000000"/>
<rect x="1571.3" y="571.36" width="4.8" height="38.02" fill="#000000"/>
<rect x="1630.98" y="589.56" width="4.8" height="37.45" fill="#000000"/>
<rect x="1690.66" y="607.75" width="4.8" height="36.31" fill="#000000"/>
<rect x="1750.34" y="625.94" width="4.8" height="34.04" fill="#000000"/>
<rect x="1810.02" y="644.14" width="4.8" height="29.49" fill="#000000"/>
<rect x="1869.7" y="662.33" width="4.8" height="20.39" fill="#000000"/>
<rect x="437.38" y="720.56" width="4.8" height="1270.35" fill="#000000"/>
<rect x="616.42" y="698.72" width="4.8" height="45.89" fill="#000000"/>
<rect x="676.1" y="716.91" width="4.8" height="53.2" fill="#000000"/>
<rect x="735.78" y="735.1" width="4.8" height="67.82" fill="#000000"/>
<rect x="795.46" y="753.3" width="4.8" height="97.04" fill="#000000"/>
<rect x="855.14" y="771.5" width="4.8" height="155.47" fill="#000000"/>
<rect x="914.82" y="789.7" width="4.8" height="272.35" fill="#000000"/>
<rect x="974.5" y="882.41" width="4.8" height="357.08" fill="#000000"/>
<rect x="1511.62" y="821.55" width="4.8" height="123.91" fill="#e6087f"/>
<rect x="1810.02" y="807.9" width="4.8" height="29.5" fill="#e6087f"/>
<rect x="1869.7" y="826.1" width="4.8" height="20.4" fill="#e6087f"/>
<rect x="1571.3" y="889.8" width="4.8" height="109.13" fill="#e6087f"/>
<rect x="1810.02" y="871.6" width="4.8" height="38.6" fill="#e6087f"/>
<rect x="1869.7" y="898.9" width="4.8" height="20.4" fill="#e6087f"/>
<rect x="1630.98" y="951.23" width="4.8" height="93.2" fill="#e6087f"/>
<rect x="1750.34" y="935.3" width="4.8" height="34.05" fill="#e6087f"/>
<rect x="1810.02" y="953.5" width="4.8" height="29.5" fill="#e6087f"/>
<rect x="1690.66" y="1017.2" width="4.8" height="52.25" fill="#e6087f"/>
<rect x="1869.7" y="1008.1" width="4.8" height="20.4" fill="#e6087f"/>
<rect x="1750.34" y="1044.5" width="4.8" height="47.7" fill="#e6087f"/>
<rect x="1810.02" y="1071.8" width="4.8" height="38.6" fill="#e6087f"/>
<rect x="1034.18" y="1162.8" width="4.8" height="151.17" fill="#000000"/>
<rect x="1810.02" y="1144.6" width="4.8" height="38.6" fill="#e6087f"/>
<rect x="1869.7" y="1135.5" width="4.8" height="20.4" fill="#e6087f"/>
<rect x="1869.7" y="1171.9" width="4.8" height="20.4" fill="#e6087f"/>
<rect x="1093.86" y="1228.78" width="4.8" height="168.18" fill="#000000"/>
<rect x="1690.66" y="1208.3" width="4.8" height="43.15" fill="#fdb365"/>
<rect x="1750.34" y="1226.5" width="4.8" height="47.7" fill="#fdb365"/>
<rect x="1810.02" y="1253.8" width="4.8" height="38.6" fill="#fdb365"/>
<rect x="1153.54" y="1326.6" width="4.8" height="138.51" fill="#000000"/>
<rect x="1869.7" y="1317.5" width="4.8" height="20.4" fill="#74c476"/>
<rect x="1213.22" y="1386.89" width="4.8" height="154.24" fill="#000000"/>
<rect x="1690.66" y="1353.9" width="4.8" height="68.18" fill="#74c476"/>
<rect x="1750.34" y="1385.75" width="4.8" height="70.45" fill="#74c476"/>
<rect x="1810.02" y="1372.1" width="4.8" height="29.5" fill="#74c476"/>
<rect x="1869.7" y="1390.3" width="4.8" height="20.4" fill="#74c476"/>
<rect x="1810.02" y="1435.8" width="4.8" height="38.6" fill="#74c476"/>
<rect x="1869.7" y="1426.7" width="4.8" height="20.4" fill="#74c476"/>
<rect x="1869.7" y="1463.1" width="4.8" height="20.4" fill="#74c476"/>
<rect x="1272.9" y="1508.61" width="4.8" height="62.86" fill="#000000"/>
<rect x="1869.7" y="1499.51" width="4.8" height="20.4" fill="#3fa0e0"/>
<rect x="1332.58" y="1535.91" width="4.8" height="68.92" fill="#9983d1"/>
<rect x="1392.26" y="1554.11" width="4.8" height="99.24" fill="#9983d1"/>
<rect x="1451.94" y="1585.96" width="4.8" height="132.59" fill="#9983d1"/>
<rect x="1810.02" y="1572.31" width="4.8" height="29.5" fill="#9983d1"/>
<rect x="1511.62" y="1663.31" width="4.8" height="108.27" fill="#9983d1"/>
<rect x="1750.34" y="1636.01" width="4.8" height="56.8" fill="#9983d1"/>
<rect x="1810.02" y="1672.41" width="4.8" height="38.6" fill="#9983d1"/>
<rect x="1869.7" y="1699.71" width="4.8" height="20.4" fill="#9983d1"/>
<rect x="1571.3" y="1745.21" width="4.8" height="50.54" fill="#9983d1"/>
<rect x="1630.98" y="1772.51" width="4.8" height="44.29" fill="#9983d1"/>
<rect x="1690.66" y="1790.71" width="4.8" height="49.98" fill="#9983d1"/>
<rect x="1750.34" y="1818.01" width="4.8" height="43.15" fill="#9983d1"/>
<rect x="1869.7" y="1808.91" width="4.8" height="20.4" fill="#9983d1"/>
<rect x="1810.02" y="1845.31" width="4.8" height="29.5" fill="#9983d1"/>
<rect x="497.06" y="1920.38" width="4.8" height="138.86" fill="#000000"/>
<rect x="1690.66" y="1899.91" width="4.8" height="43.15" fill="#ffd966"/>
<rect x="1750.34" y="1918.11" width="4.8" height="47.7" fill="#ffd966"/>
<rect x="1810.02" y="1945.41" width="4.8" height="38.6" fill="#ffd966"/>
<rect x="1869.7" y="1972.71" width="4.8" height="20.4" fill="#ffd966"/>
<rect x="556.74" y="2018.21" width="4.8" height="79.87" fill="#000000"/>
<rect x="616.42" y="2054.61" width="4.8" height="84.74" fill="#000000"/>
<rect x="676.1" y="2081.91" width="4.8" height="112.69" fill="#000000"/>
<rect x="735.78" y="2117.74" width="4.8" height="151.51" fill="#000000"/>
<rect x="1630.98" y="2100.11" width="4.8" height="37.46" fill="#fdb913"/>
<rect x="1690.66" y="2118.31" width="4.8" height="36.33" fill="#fdb913"/>
<rect x="1750.34" y="2136.51" width="4.8" height="34.05" fill="#fdb913"/>
<rect x="1810.02" y="2154.71" width="4.8" height="29.5" fill="#fdb913"/>
<rect x="795.46" y="2218.41" width="4.8" height="99.49" fill="#000000"/>
<rect x="855.14" y="2245.71" width="4.8" height="142.17" fill="#000000"/>
<rect x="914.82" y="2263.92" width="4.8" height="245.74" fill="#000000"/>
<rect x="974.5" y="2291.22" width="4.8" height="434.68" fill="#000000"/>
<rect x="1034.18" y="2327.63" width="4.8" height="794.34" fill="#000000"/>
<rect x="1093.86" y="2513.24" width="4.8" height="1215.24" fill="#000000"/>
<rect x="1392.26" y="2391.34" width="4.8" height="246.02" fill="#000000"/>
<rect x="1750.34" y="2364.03" width="4.8" height="56.81" fill="#000000"/>
<rect x="1869.7" y="2354.93" width="4.8" height="20.4" fill="#0a8c32"/>
<rect x="1810.02" y="2400.44" width="4.8" height="38.61" fill="#000000"/>
<rect x="1451.94" y="2477.8" width="4.8" height="316.91" fill="#000000"/>
<rect x="1810.02" y="2464.15" width="4.8" height="29.5" fill="#000000"/>
<rect x="1750.34" y="2518.76" width="4.8" height="34.05" fill="#000000"/>
<rect x="1810.02" y="2536.96" width="4.8" height="29.5" fill="#000000"/>
<rect x="1869.7" y="2555.16" width="4.8" height="20.4" fill="#000000"/>
<rect x="1511.62" y="2643.9" width="4.8" height="299.42" fill="#000000"/>
<rect x="1690.66" y="2605.22" width="4.8" height="79.56" fill="#000000"/>
<rect x="1810.02" y="2591.57" width="4.8" height="29.5" fill="#000000"/>
<rect x="1750.34" y="2655.28" width="4.8" height="56.81" fill="#000000"/>
<rect x="1810.02" y="2691.68" width="4.8" height="38.61" fill="#000000"/>
<rect x="1571.3" y="2779.85" width="4.8" height="324.73" fill="#000000"/>
<rect x="1630.98" y="2755.39" width="4.8" height="51.12" fill="#000000"/>
<rect x="1690.66" y="2782.7" width="4.8" height="45.43" fill="#000000"/>
<rect x="1750.34" y="2810" width="4.8" height="34.05" fill="#000000"/>
<rect x="1810.02" y="2828.2" width="4.8" height="29.5" fill="#000000"/>
<rect x="1869.7" y="2846.41" width="4.8" height="20.4" fill="#000000"/>
<rect x="1690.66" y="2891.91" width="4.8" height="423.14" fill="#000000"/>
<rect x="1869.7" y="2992.03" width="4.8" height="20.4" fill="#000000"/>
<rect x="1810.02" y="3101.24" width="4.8" height="29.5" fill="#000000"/>
<rect x="1810.02" y="3155.85" width="4.8" height="29.5" fill="#000000"/>
<rect x="1810.02" y="3219.56" width="4.8" height="38.61" fill="#000000"/>
<rect x="1750.34" y="3292.37" width="4.8" height="43.16" fill="#000000"/>
<rect x="1869.7" y="3283.27" width="4.8" height="20.4" fill="#000000"/>
<rect x="1810.02" y="3319.68" width="4.8" height="29.5" fill="#000000"/>
<rect x="1153.54" y="3452.15" width="4.8" height="550.48" fill="#000000"/>
<rect x="1272.9" y="3403.86" width="4.8" height="98.77" fill="#000000"/>
<rect x="1750.34" y="3383.39" width="4.8" height="43.16" fill="#000000"/>
<rect x="1869.7" y="3374.28" width="4.8" height="20.4" fill="#000000"/>
<rect x="1810.02" y="3410.69" width="4.8" height="29.5" fill="#000000"/>
<rect x="1869.7" y="3428.89" width="4.8" height="20.4" fill="#000000"/>
<rect x="1332.58" y="3474.4" width="4.8" height="54.26" fill="#0a8c32"/>
<rect x="1392.26" y="3501.73" width="4.8" height="51.66" fill="#0a8c32"/>
<rect x="1451.94" y="3519.95" width="4.8" height="64.69" fill="#0a8c32"/>
<rect x="1511.62" y="3547.28" width="4.8" height="72.52" fill="#0a8c32"/>
<rect x="1571.3" y="3588.27" width="4.8" height="60.84" fill="#0a8c32"/>
<rect x="1810.02" y="3574.61" width="4.8" height="29.53" fill="#0a8c32"/>
<rect x="1869.7" y="3592.83" width="4.8" height="20.42" fill="#000000"/>
<rect x="1630.98" y="3629.27" width="4.8" height="37.5" fill="#0a8c32"/>
<rect x="1690.66" y="3647.49" width="4.8" height="36.36" fill="#0a8c32"/>
<rect x="1750.34" y="3665.71" width="4.8" height="34.08" fill="#0a8c32"/>
<rect x="1810.02" y="3683.93" width="4.8" height="29.53" fill="#000000"/>
<rect x="1869.7" y="3702.15" width="4.8" height="20.42" fill="#000000"/>
<rect x="1213.22" y="3817.16" width="4.8" height="368.75" fill="#000000"/>
<rect x="1571.3" y="3761.36" width="4.8" height="113.8" fill="#000000"/>
<rect x="1750.34" y="3738.59" width="4.8" height="47.75" fill="#000000"/>
<rect x="1810.02" y="3765.91" width="4.8" height="38.64" fill="#000000"/>
<rect x="1869.7" y="3756.81" width="4.8" height="20.42" fill="#0a8c32"/>
<rect x="1630.98" y="3838.79" width="4.8" height="70.52" fill="#000000"/>
<rect x="1690.66" y="3875.23" width="4.8" height="65.97" fill="#000000"/>
<rect x="1869.7" y="3866.12" width="4.8" height="20.42" fill="#0a8c32"/>
<rect x="1750.34" y="3911.67" width="4.8" height="56.86" fill="#000000"/>
<rect x="1810.02" y="3948.11" width="4.8" height="38.64" fill="#000000"/>
<rect x="1272.9" y="4056.08" width="4.8" height="257.45" fill="#000000"/>
<rect x="1451.94" y="4020.99" width="4.8" height="72.37" fill="#000000"/>
<rect x="1511.62" y="4057.43" width="4.8" height="69.67" fill="#000000"/>
<rect x="1571.3" y="4093.87" width="4.8" height="64.26" fill="#0a8c32"/>
<rect x="1630.98" y="4130.31" width="4.8" height="53.44" fill="#0a8c32"/>
<rect x="1690.66" y="4157.64" width="4.8" height="50.03" fill="#0a8c32"/>
<rect x="1750.34" y="4184.97" width="4.8" height="43.19" fill="#0a8c32"/>
<rect x="1869.7" y="4175.86" width="4.8" height="20.42" fill="#0a8c32"/>
<rect x="1810.02" y="4212.3" width="4.8" height="29.53" fill="#0a8c32"/>
<rect x="1332.58" y="4276.07" width="4.8" height="72.73" fill="#0a8c32"/>
<rect x="1392.26" y="4312.51" width="4.8" height="70.38" fill="#0a8c32"/>
<rect x="1451.94" y="4348.94" width="4.8" height="65.68" fill="#0a8c32"/>
<rect x="1511.62" y="4376.27" width="4.8" height="74.51" fill="#0a8c32"/>
<rect x="1571.3" y="4408.16" width="4.8" height="83.05" fill="#0a8c32"/>
<rect x="1810.02" y="4394.49" width="4.8" height="29.53" fill="#0a8c32"/>
<rect x="1630.98" y="4458.26" width="4.8" height="63.69" fill="#0a8c32"/>
<rect x="1690.66" y="4494.7" width="4.8" height="52.3" fill="#0a8c32"/>
<rect x="1750.34" y="4522.03" width="4.8" height="47.75" fill="#0a8c32"/>
<rect x="1810.02" y="4549.36" width="4.8" height="38.64" fill="#0a8c32"/>
<rect x="1869.7" y="4576.69" width="4.8" height="20.42" fill="#0a8c32"/>
</g>
<g stroke-width="2.1">
<circle r="18.15" transform="translate(1911.7 35.11) scale(2.18 1)" fill="#ff9f9a" stroke="#ff3b3b"/>
<circle r="18.15" transform="translate(1911.7 108.65) scale(2.18 1)" fill="#f4bf7c" stroke="#e07f0b"/>
<circle r="18.15" transform="translate(1911.7 144.99) scale(2.18 1)" fill="#b9e67a" stroke="#66cc00"/>
<circle r="18.15" transform="translate(1911.7 381.43) scale(2.18 1)" fill="#7cc1e8" stroke="#1187d5"/>
<circle r="18.15" transform="translate(1911.7 454.21) scale(2.18 1)" fill="#bd99d9" stroke="#7735b3"/>
<circle r="18.15" transform="translate(1911.7 872.7) scale(2.18 1)" fill="#ff85c2" stroke="#e6087f"/>
<circle r="18.15" transform="translate(1911.7 981.9) scale(2.18 1)" fill="#ff85c2" stroke="#e6087f"/>
<circle r="18.15" transform="translate(1911.7 1072.9) scale(2.18 1)" fill="#ff85c2" stroke="#e6087f"/>
<circle r="18.15" transform="translate(1911.7 1109.3) scale(2.18 1)" fill="#ff85c2" stroke="#e6087f"/>
<circle r="18.15" transform="translate(1911.7 1254.9) scale(2.18 1)" fill="#fed8b1" stroke="#fdb365"/>
<circle r="18.15" transform="translate(1911.7 1291.3) scale(2.18 1)" fill="#fed8b1" stroke="#fdb365"/>
<circle r="18.15" transform="translate(1911.7 1600.71) scale(2.18 1)" fill="#cabde5" stroke="#9983d1"/>
<circle r="18.15" transform="translate(1911.7 1637.11) scale(2.18 1)" fill="#cabde5" stroke="#9983d1"/>
<circle r="18.15" transform="translate(1911.7 1673.51) scale(2.18 1)" fill="#cabde5" stroke="#9983d1"/>
<circle r="18.15" transform="translate(1911.7 1746.31) scale(2.18 1)" fill="#cabde5" stroke="#9983d1"/>
<circle r="18.15" transform="translate(1911.7 1873.71) scale(2.18 1)" fill="#cabde5" stroke="#9983d1"/>
<circle r="18.15" transform="translate(1911.7 1946.51) scale(2.18 1)" fill="#ffebad" stroke="#ffd966"/>
<circle r="18.15" transform="translate(1911.7 2019.31) scale(2.18 1)" fill="#00ff73" stroke="#00f04a"/>
<circle r="18.15" transform="translate(1911.7 2055.71) scale(2.18 1)" fill="#74a9cf" stroke="#0b4f9c"/>
<circle r="18.15" transform="translate(1911.7 2183.11) scale(2.18 1)" fill="#fee090" stroke="#fdb913"/>
<circle r="18.15" transform="translate(1911.7 2219.51) scale(2.18 1)" fill="#858585" stroke="#000000"/>
<circle r="18.15" transform="translate(1911.7 2292.32) scale(2.18 1)" fill="#66c79d" stroke="#0a8c32"/>
<circle r="18.15" transform="translate(1911.7 2328.73) scale(2.18 1)" fill="#66c79d" stroke="#0a8c32"/>
<circle r="18.15" transform="translate(1911.7 2401.54) scale(2.18 1)" fill="#858585" stroke="#000000"/>
<circle r="18.15" transform="translate(1911.7 2437.94) scale(2.18 1)" fill="#858585" stroke="#000000"/>
<circle r="18.15" transform="translate(1911.7 2492.55) scale(2.18 1)" fill="#858585" stroke="#000000"/>
<circle r="18.15" transform="translate(1911.7 2619.97) scale(2.18 1)" fill="#858585" stroke="#000000"/>
<circle r="18.15" transform="translate(1911.7 2656.38) scale(2.18 1)" fill="#858585" stroke="#000000"/>
<circle r="18.15" transform="translate(1911.7 2692.78) scale(2.18 1)" fill="#858585" stroke="#000000"/>
<circle r="18.15" transform="translate(1911.7 2729.19) scale(2.18 1)" fill="#858585" stroke="#000000"/>
<circle r="18.15" transform="translate(1911.7 2783.8) scale(2.18 1)" fill="#858585" stroke="#000000"/>
<circle r="18.15" transform="translate(1911.7 2893.01) scale(2.18 1)" fill="#858585" stroke="#000000"/>
<circle r="18.15" transform="translate(1911.7 2929.42) scale(2.18 1)" fill="#858585" stroke="#000000"/>
<circle r="18.15" transform="translate(1911.7 2965.82) scale(2.18 1)" fill="#858585" stroke="#000000"/>
<circle r="18.15" transform="translate(1911.7 3038.63) scale(2.18 1)" fill="#858585" stroke="#000000"/>
<circle r="18.15" transform="translate(1911.7 3075.04) scale(2.18 1)" fill="#858585" stroke="#000000"/>
<circle r="18.15" transform="translate(1911.7 3129.65) scale(2.18 1)" fill="#858585" stroke="#000000"/>
<circle r="18.15" transform="translate(1911.7 3184.26) scale(2.18 1)" fill="#858585" stroke="#000000"/>
<circle r="18.15" transform="translate(1911.7 3220.66) scale(2.18 1)" fill="#858585" stroke="#000000"/>
<circle r="18.15" transform="translate(1911.7 3257.07) scale(2.18 1)" fill="#858585" stroke="#000000"/>
<circle r="18.15" transform="translate(1911.7 3348.08) scale(2.18 1)" fill="#858585" stroke="#000000"/>
<circle r="18.15" transform="translate(1911.7 3475.5) scale(2.18 1)" fill="#66c79d" stroke="#0a8c32"/>
<circle r="18.15" transform="translate(1911.7 3548.38) scale(2.18 1)" fill="#66c79d" stroke="#0a8c32"/>
<circle r="18.15" transform="translate(1911.7 3803.45) scale(2.18 1)" fill="#858585" stroke="#000000"/>
<circle r="18.15" transform="translate(1911.7 3839.89) scale(2.18 1)" fill="#66c79d" stroke="#0a8c32"/>
<circle r="18.15" transform="translate(1911.7 3912.77) scale(2.18 1)" fill="#66c79d" stroke="#0a8c32"/>
<circle r="18.15" transform="translate(1911.7 3949.21) scale(2.18 1)" fill="#66c79d" stroke="#0a8c32"/>
<circle r="18.15" transform="translate(1911.7 3985.65) scale(2.18 1)" fill="#858585" stroke="#000000"/>
<circle r="18.15" transform="translate(1911.7 4022.09) scale(2.18 1)" fill="#66c79d" stroke="#0a8c32"/>
<circle r="18.15" transform="translate(1911.7 4058.53) scale(2.18 1)" fill="#66c79d" stroke="#0a8c32"/>
<circle r="18.15" transform="translate(1911.7 4094.97) scale(2.18 1)" fill="#66c79d" stroke="#0a8c32"/>
<circle r="18.15" transform="translate(1911.7 4131.41) scale(2.18 1)" fill="#66c79d" stroke="#0a8c32"/>
<circle r="18.15" transform="translate(1911.7 4240.73) scale(2.18 1)" fill="#66c79d" stroke="#0a8c32"/>
<circle r="18.15" transform="translate(1911.7 4277.17) scale(2.18 1)" fill="#66c79d" stroke="#0a8c32"/>
<circle r="18.15" transform="translate(1911.7 4313.61) scale(2.18 1)" fill="#66c79d" stroke="#0a8c32"/>
<circle r="18.15" transform="translate(1911.7 4350.04) scale(2.18 1)" fill="#66c79d" stroke="#0a8c32"/>
<circle r="18.15" transform="translate(1911.7 4422.92) scale(2.18 1)" fill="#66c79d" stroke="#0a8c32"/>
<circle r="18.15" transform="translate(1911.7 4459.36) scale(2.18 1)" fill="#66c79d" stroke="#0a8c32"/>
<circle r="18.15" transform="translate(1911.7 4495.8) scale(2.18 1)" fill="#66c79d" stroke="#0a8c32"/>
<circle r="18.15" transform="translate(1911.7 4550.46) scale(2.18 1)" fill="#66c79d" stroke="#0a8c32"/>
</g>
<rect x="0" y="4623" width="2405" height="2" fill="#f7f7f7"/>
<g class="lb">
<rect x="80.97" y="286.72" width="49.2" height="14"/>
<text transform="translate(105.57 299.17) scale(1.99 1)">100</text>
<rect x="689.71" y="132.27" width="49.2" height="14"/>
<text transform="translate(714.31 144.72) scale(1.99 1)">100</text>
<rect x="1620.72" y="84.67" width="49.2" height="14"/>
<text transform="translate(1645.32 97.12) scale(1.99 1)">100</text>
<rect x="1759.31" y="100.76" width="34.6" height="14"/>
<text transform="translate(1776.61 113.21) scale(1.99 1)">99</text>
<rect x="1818.99" y="114.55" width="34.6" height="14"/>
<text transform="translate(1836.29 127) scale(1.99 1)">94</text>
<rect x="1572.97" y="179.86" width="49.2" height="14"/>
<text transform="translate(1597.57 192.31) scale(1.99 1)">100</text>
<rect x="1704.27" y="150.89" width="49.2" height="14"/>
<text transform="translate(1728.87 163.34) scale(1.99 1)">100</text>
<rect x="1639.95" y="208.82" width="34.6" height="14"/>
<text transform="translate(1657.25 221.27) scale(1.99 1)">99</text>
<rect x="1740.08" y="187.23" width="49.2" height="14"/>
<text transform="translate(1764.68 199.68) scale(1.99 1)">100</text>
<rect x="1699.63" y="230.42" width="34.6" height="14"/>
<text transform="translate(1716.93 242.87) scale(1.99 1)">97</text>
<rect x="1759.31" y="246.34" width="34.6" height="14"/>
<text transform="translate(1776.61 258.79) scale(1.99 1)">95</text>
<rect x="1818.99" y="259.98" width="34.6" height="14"/>
<text transform="translate(1836.29 272.43) scale(1.99 1)">97</text>
<rect x="140.65" y="441.17" width="49.2" height="14"/>
<text transform="translate(165.25 453.62) scale(1.99 1)">100</text>
<rect x="725.52" y="305.18" width="49.2" height="14"/>
<text transform="translate(750.12 317.63) scale(1.99 1)">100</text>
<rect x="1572.97" y="323.09" width="49.2" height="14"/>
<text transform="translate(1597.57 335.54) scale(1.99 1)">100</text>
<rect x="1639.95" y="340.71" width="34.6" height="14"/>
<text transform="translate(1657.25 353.16) scale(1.99 1)">96</text>
<rect x="1692.33" y="357.77" width="49.2" height="14"/>
<text transform="translate(1716.93 370.22) scale(1.99 1)">100</text>
<rect x="1752.01" y="373.69" width="49.2" height="14"/>
<text transform="translate(1776.61 386.14) scale(1.99 1)">100</text>
<rect x="1818.99" y="387.33" width="34.6" height="14"/>
<text transform="translate(1836.29 399.78) scale(1.99 1)">45</text>
<rect x="200.33" y="577.17" width="49.2" height="14"/>
<text transform="translate(224.93 589.62) scale(1.99 1)">100</text>
<rect x="880.68" y="423.72" width="49.2" height="14"/>
<text transform="translate(905.28 436.17) scale(1.99 1)">100</text>
<rect x="260.01" y="730.62" width="49.2" height="14"/>
<text transform="translate(284.61 743.07) scale(1.99 1)">100</text>
<rect x="821" y="482.28" width="49.2" height="14"/>
<text transform="translate(845.6 494.73) scale(1.99 1)">100</text>
<rect x="1711.57" y="460.11" width="34.6" height="14"/>
<text transform="translate(1728.87 472.56) scale(1.99 1)">96</text>
<rect x="1639.95" y="504.45" width="34.6" height="14"/>
<text transform="translate(1657.25 516.9) scale(1.99 1)">87</text>
<rect x="1699.63" y="521.51" width="34.6" height="14"/>
<text transform="translate(1716.93 533.96) scale(1.99 1)">88</text>
<rect x="1759.31" y="537.43" width="34.6" height="14"/>
<text transform="translate(1776.61 549.88) scale(1.99 1)">83</text>
<rect x="1811.69" y="551.07" width="49.2" height="14"/>
<text transform="translate(1836.29 563.52) scale(1.99 1)">100</text>
<rect x="326.99" y="978.96" width="34.6" height="14"/>
<text transform="translate(344.29 991.41) scale(1.99 1)">26</text>
<rect x="840.24" y="596.27" width="34.6" height="14"/>
<text transform="translate(857.54 608.72) scale(1.99 1)">33</text>
<rect x="1580.27" y="614.18" width="34.6" height="14"/>
<text transform="translate(1597.57 626.63) scale(1.99 1)">68</text>
<rect x="1639.95" y="631.81" width="34.6" height="14"/>
<text transform="translate(1657.25 644.26) scale(1.99 1)">61</text>
<rect x="1699.63" y="648.86" width="34.6" height="14"/>
<text transform="translate(1716.93 661.31) scale(1.99 1)">68</text>
<rect x="1759.31" y="664.78" width="34.6" height="14"/>
<text transform="translate(1776.61 677.23) scale(1.99 1)">34</text>
<rect x="1818.99" y="678.43" width="34.6" height="14"/>
<text transform="translate(1836.29 690.88) scale(1.99 1)">47</text>
<rect x="386.67" y="1361.64" width="34.6" height="14"/>
<text transform="translate(403.97 1374.09) scale(1.99 1)">35</text>
<rect x="494.1" y="727.56" width="34.6" height="14"/>
<text transform="translate(511.4 740.01) scale(1.99 1)">90</text>
<rect x="625.39" y="749.41" width="34.6" height="14"/>
<text transform="translate(642.69 761.86) scale(1.99 1)">93</text>
<rect x="677.77" y="774.91" width="49.2" height="14"/>
<text transform="translate(702.37 787.36) scale(1.99 1)">100</text>
<rect x="744.75" y="807.72" width="34.6" height="14"/>
<text transform="translate(762.05 820.17) scale(1.99 1)">99</text>
<rect x="804.43" y="855.14" width="34.6" height="14"/>
<text transform="translate(821.73 867.59) scale(1.99 1)">99</text>
<rect x="864.11" y="931.77" width="34.6" height="14"/>
<text transform="translate(881.41 944.22) scale(1.99 1)">94</text>
<rect x="923.79" y="1066.85" width="34.6" height="14"/>
<text transform="translate(941.09 1079.3) scale(1.99 1)">38</text>
<rect x="1181.75" y="889.41" width="20" height="14"/>
<text transform="translate(1191.75 901.86) scale(1.99 1)">6</text>
<rect x="1616.08" y="828.55" width="34.6" height="14"/>
<text transform="translate(1633.38 841) scale(1.99 1)">26</text>
<rect x="1811.69" y="842.2" width="49.2" height="14"/>
<text transform="translate(1836.29 854.65) scale(1.99 1)">100</text>
<rect x="1520.59" y="950.26" width="34.6" height="14"/>
<text transform="translate(1537.89 962.71) scale(1.99 1)">17</text>
<rect x="1651.89" y="896.8" width="34.6" height="14"/>
<text transform="translate(1669.19 909.25) scale(1.99 1)">15</text>
<rect x="1818.99" y="878.6" width="34.6" height="14"/>
<text transform="translate(1836.29 891.05) scale(1.99 1)">30</text>
<rect x="1818.99" y="915" width="34.6" height="14"/>
<text transform="translate(1836.29 927.45) scale(1.99 1)">25</text>
<rect x="1587.57" y="1003.73" width="20" height="14"/>
<text transform="translate(1597.57 1016.18) scale(1.99 1)">5</text>
<rect x="1663.82" y="958.23" width="34.6" height="14"/>
<text transform="translate(1681.12 970.68) scale(1.99 1)">10</text>
<rect x="1759.31" y="974.15" width="34.6" height="14"/>
<text transform="translate(1776.61 986.6) scale(1.99 1)">15</text>
<rect x="1811.69" y="987.8" width="49.2" height="14"/>
<text transform="translate(1836.29 1000.25) scale(1.99 1)">100</text>
<rect x="1639.95" y="1049.23" width="34.6" height="14"/>
<text transform="translate(1657.25 1061.68) scale(1.99 1)">13</text>
<rect x="1747.38" y="1024.2" width="34.6" height="14"/>
<text transform="translate(1764.68 1036.65) scale(1.99 1)">38</text>
<rect x="1699.63" y="1074.25" width="34.6" height="14"/>
<text transform="translate(1716.93 1086.7) scale(1.99 1)">19</text>
<rect x="1752.01" y="1097" width="49.2" height="14"/>
<text transform="translate(1776.61 1109.45) scale(1.99 1)">100</text>
<rect x="1818.99" y="1078.8" width="34.6" height="14"/>
<text transform="translate(1836.29 1091.25) scale(1.99 1)">18</text>
<rect x="1818.99" y="1115.2" width="34.6" height="14"/>
<text transform="translate(1836.29 1127.65) scale(1.99 1)">15</text>
<rect x="983.47" y="1244.29" width="34.6" height="14"/>
<text transform="translate(1000.77 1256.74) scale(1.99 1)">11</text>
<rect x="1329.62" y="1169.8" width="34.6" height="14"/>
<text transform="translate(1346.92 1182.25) scale(1.99 1)">13</text>
<rect x="1818.99" y="1151.6" width="34.6" height="14"/>
<text transform="translate(1836.29 1164.05) scale(1.99 1)">23</text>
<rect x="1818.99" y="1188" width="34.6" height="14"/>
<text transform="translate(1836.29 1200.45) scale(1.99 1)">30</text>
<rect x="1043.15" y="1318.77" width="34.6" height="14"/>
<text transform="translate(1060.45 1331.22) scale(1.99 1)">36</text>
<rect x="1310.38" y="1235.78" width="49.2" height="14"/>
<text transform="translate(1334.98 1248.23) scale(1.99 1)">100</text>
<rect x="1699.63" y="1256.25" width="34.6" height="14"/>
<text transform="translate(1716.93 1268.7) scale(1.99 1)">33</text>
<rect x="1759.31" y="1279" width="34.6" height="14"/>
<text transform="translate(1776.61 1291.45) scale(1.99 1)">32</text>
<rect x="1818.99" y="1260.8" width="34.6" height="14"/>
<text transform="translate(1836.29 1273.25) scale(1.99 1)">45</text>
<rect x="1811.69" y="1297.2" width="49.2" height="14"/>
<text transform="translate(1836.29 1309.65) scale(1.99 1)">100</text>
<rect x="1102.83" y="1401.76" width="34.6" height="14"/>
<text transform="translate(1120.13 1414.21) scale(1.99 1)">96</text>
<rect x="1417.8" y="1333.6" width="49.2" height="14"/>
<text transform="translate(1442.4 1346.05) scale(1.99 1)">100</text>
<rect x="1162.51" y="1469.91" width="34.6" height="14"/>
<text transform="translate(1179.81 1482.36) scale(1.99 1)">43</text>
<rect x="1382" y="1393.89" width="49.2" height="14"/>
<text transform="translate(1406.6 1406.34) scale(1.99 1)">100</text>
<rect x="1699.63" y="1426.88" width="34.6" height="14"/>
<text transform="translate(1716.93 1439.33) scale(1.99 1)">28</text>
<rect x="1759.31" y="1392.75" width="34.6" height="14"/>
<text transform="translate(1776.61 1405.2) scale(1.99 1)">32</text>
<rect x="1811.69" y="1406.4" width="49.2" height="14"/>
<text transform="translate(1836.29 1418.85) scale(1.99 1)">100</text>
<rect x="1759.31" y="1461" width="34.6" height="14"/>
<text transform="translate(1776.61 1473.45) scale(1.99 1)">25</text>
<rect x="1818.99" y="1442.8" width="34.6" height="14"/>
<text transform="translate(1836.29 1455.25) scale(1.99 1)">51</text>
<rect x="1818.99" y="1479.2" width="34.6" height="14"/>
<text transform="translate(1836.29 1491.65) scale(1.99 1)">55</text>
<rect x="1222.19" y="1545.94" width="34.6" height="14"/>
<text transform="translate(1239.49 1558.39) scale(1.99 1)">47</text>
<rect x="1489.42" y="1515.61" width="49.2" height="14"/>
<text transform="translate(1514.02 1528.06) scale(1.99 1)">100</text>
<rect x="1274.57" y="1576.27" width="49.2" height="14"/>
<text transform="translate(1299.17 1588.72) scale(1.99 1)">100</text>
<rect x="1334.25" y="1609.63" width="49.2" height="14"/>
<text transform="translate(1358.85 1622.08) scale(1.99 1)">100</text>
<rect x="1401.23" y="1658.15" width="34.6" height="14"/>
<text transform="translate(1418.53 1670.6) scale(1.99 1)">28</text>
<rect x="1580.27" y="1592.96" width="34.6" height="14"/>
<text transform="translate(1597.57 1605.41) scale(1.99 1)">99</text>
<rect x="1818.99" y="1606.61" width="34.6" height="14"/>
<text transform="translate(1836.29 1619.06) scale(1.99 1)">95</text>
<rect x="1460.91" y="1723.34" width="34.6" height="14"/>
<text transform="translate(1478.21 1735.79) scale(1.99 1)">18</text>
<rect x="1592.21" y="1670.31" width="34.6" height="14"/>
<text transform="translate(1609.51 1682.76) scale(1.99 1)">18</text>
<rect x="1783.18" y="1643.01" width="34.6" height="14"/>
<text transform="translate(1800.48 1655.46) scale(1.99 1)">17</text>
<rect x="1759.31" y="1697.61" width="34.6" height="14"/>
<text transform="translate(1776.61 1710.06) scale(1.99 1)">11</text>
<rect x="1811.69" y="1679.41" width="49.2" height="14"/>
<text transform="translate(1836.29 1691.86) scale(1.99 1)">100</text>
<rect x="1818.99" y="1715.81" width="34.6" height="14"/>
<text transform="translate(1836.29 1728.26) scale(1.99 1)">31</text>
<rect x="1520.59" y="1776.38" width="34.6" height="14"/>
<text transform="translate(1537.89 1788.83) scale(1.99 1)">12</text>
<rect x="1675.76" y="1752.21" width="34.6" height="14"/>
<text transform="translate(1693.06 1764.66) scale(1.99 1)">35</text>
<rect x="1580.27" y="1800.55" width="34.6" height="14"/>
<text transform="translate(1597.57 1813) scale(1.99 1)">24</text>
<rect x="1639.95" y="1821.59" width="34.6" height="14"/>
<text transform="translate(1657.25 1834.04) scale(1.99 1)">97</text>
<rect x="1699.63" y="1845.48" width="34.6" height="14"/>
<text transform="translate(1716.93 1857.93) scale(1.99 1)">26</text>
<rect x="1783.18" y="1825.01" width="34.6" height="14"/>
<text transform="translate(1800.48 1837.46) scale(1.99 1)">47</text>
<rect x="1759.31" y="1865.96" width="34.6" height="14"/>
<text transform="translate(1776.61 1878.41) scale(1.99 1)">30</text>
<rect x="1818.99" y="1879.61" width="34.6" height="14"/>
<text transform="translate(1836.29 1892.06) scale(1.99 1)">50</text>
<rect x="446.35" y="1995.71" width="34.6" height="14"/>
<text transform="translate(463.65 2008.16) scale(1.99 1)">54</text>
<rect x="952.3" y="1927.38" width="49.2" height="14"/>
<text transform="translate(976.9 1939.83) scale(1.99 1)">100</text>
<rect x="1692.33" y="1947.86" width="49.2" height="14"/>
<text transform="translate(1716.93 1960.31) scale(1.99 1)">100</text>
<rect x="1759.31" y="1970.61" width="34.6" height="14"/>
<text transform="translate(1776.61 1983.06) scale(1.99 1)">97</text>
<rect x="1811.69" y="1952.41" width="49.2" height="14"/>
<text transform="translate(1836.29 1964.86) scale(1.99 1)">100</text>
<rect x="1811.69" y="1988.81" width="49.2" height="14"/>
<text transform="translate(1836.29 2001.26) scale(1.99 1)">100</text>
<rect x="506.03" y="2064.04" width="34.6" height="14"/>
<text transform="translate(523.33 2076.49) scale(1.99 1)">33</text>
<rect x="1067.02" y="2025.21" width="34.6" height="14"/>
<text transform="translate(1084.32 2037.66) scale(1.99 1)">50</text>
<rect x="565.71" y="2102.88" width="34.6" height="14"/>
<text transform="translate(583.01 2115.33) scale(1.99 1)">98</text>
<rect x="1102.83" y="2061.61" width="34.6" height="14"/>
<text transform="translate(1120.13 2074.06) scale(1.99 1)">85</text>
<rect x="625.39" y="2144.15" width="34.6" height="14"/>
<text transform="translate(642.69 2156.6) scale(1.99 1)">92</text>
<rect x="685.07" y="2199.4" width="34.6" height="14"/>
<text transform="translate(702.37 2211.85) scale(1.99 1)">63</text>
<rect x="1071.66" y="2124.74" width="49.2" height="14"/>
<text transform="translate(1096.26 2137.19) scale(1.99 1)">100</text>
<rect x="1632.65" y="2142.37" width="49.2" height="14"/>
<text transform="translate(1657.25 2154.82) scale(1.99 1)">100</text>
<rect x="1699.63" y="2159.43" width="34.6" height="14"/>
<text transform="translate(1716.93 2171.88) scale(1.99 1)">95</text>
<rect x="1752.01" y="2175.36" width="49.2" height="14"/>
<text transform="translate(1776.61 2187.81) scale(1.99 1)">100</text>
<rect x="1818.99" y="2189.01" width="34.6" height="14"/>
<text transform="translate(1836.29 2201.46) scale(1.99 1)">96</text>
<rect x="744.75" y="2274.06" width="34.6" height="14"/>
<text transform="translate(762.05 2286.51) scale(1.99 1)">92</text>
<rect x="1210.26" y="2225.41" width="34.6" height="14"/>
<text transform="translate(1227.56 2237.86) scale(1.99 1)">94</text>
<rect x="804.43" y="2322.7" width="34.6" height="14"/>
<text transform="translate(821.73 2335.15) scale(1.99 1)">86</text>
<rect x="864.11" y="2392.69" width="34.6" height="14"/>
<text transform="translate(881.41 2405.14) scale(1.99 1)">74</text>
<rect x="923.79" y="2514.46" width="34.6" height="14"/>
<text transform="translate(941.09 2526.91) scale(1.99 1)">53</text>
<rect x="1317.68" y="2298.22" width="34.6" height="14"/>
<text transform="translate(1334.98 2310.67) scale(1.99 1)">70</text>
<rect x="983.47" y="2730.7" width="34.6" height="14"/>
<text transform="translate(1000.77 2743.15) scale(1.99 1)">45</text>
<rect x="1353.49" y="2334.63" width="34.6" height="14"/>
<text transform="translate(1370.79 2347.08) scale(1.99 1)">56</text>
<rect x="1043.15" y="3126.77" width="34.6" height="14"/>
<text transform="translate(1060.45 3139.22) scale(1.99 1)">17</text>
<rect x="1205.62" y="2520.24" width="20" height="14"/>
<text transform="translate(1215.62 2532.69) scale(1.99 1)">7</text>
<rect x="1520.59" y="2398.34" width="34.6" height="14"/>
<text transform="translate(1537.89 2410.79) scale(1.99 1)">31</text>
<rect x="1783.18" y="2371.03" width="34.6" height="14"/>
<text transform="translate(1800.48 2383.48) scale(1.99 1)">72</text>
<rect x="1759.31" y="2425.64" width="34.6" height="14"/>
<text transform="translate(1776.61 2438.09) scale(1.99 1)">88</text>
<rect x="1811.69" y="2407.44" width="49.2" height="14"/>
<text transform="translate(1836.29 2419.89) scale(1.99 1)">100</text>
<rect x="1818.99" y="2443.84" width="34.6" height="14"/>
<text transform="translate(1836.29 2456.29) scale(1.99 1)">49</text>
<rect x="1408.53" y="2642.15" width="20" height="14"/>
<text transform="translate(1418.53 2654.6) scale(1.99 1)">9</text>
<rect x="1587.57" y="2484.8" width="20" height="14"/>
<text transform="translate(1597.57 2497.25) scale(1.99 1)">6</text>
<rect x="1818.99" y="2498.45" width="34.6" height="14"/>
<text transform="translate(1836.29 2510.9) scale(1.99 1)">96</text>
<rect x="1556.4" y="2541.68" width="34.6" height="14"/>
<text transform="translate(1573.7 2554.13) scale(1.99 1)">51</text>
<rect x="1759.31" y="2557.61" width="34.6" height="14"/>
<text transform="translate(1776.61 2570.06) scale(1.99 1)">38</text>
<rect x="1818.99" y="2571.26" width="34.6" height="14"/>
<text transform="translate(1836.29 2583.71) scale(1.99 1)">60</text>
<rect x="1460.91" y="2799.51" width="34.6" height="14"/>
<text transform="translate(1478.21 2811.96) scale(1.99 1)">10</text>
<rect x="1561.04" y="2650.9" width="49.2" height="14"/>
<text transform="translate(1585.64 2663.35) scale(1.99 1)">100</text>
<rect x="1723.5" y="2612.22" width="34.6" height="14"/>
<text transform="translate(1740.8 2624.67) scale(1.99 1)">98</text>
<rect x="1818.99" y="2625.87" width="34.6" height="14"/>
<text transform="translate(1836.29 2638.32) scale(1.99 1)">96</text>
<rect x="1699.63" y="2689.58" width="34.6" height="14"/>
<text transform="translate(1716.93 2702.03) scale(1.99 1)">90</text>
<rect x="1783.18" y="2662.28" width="34.6" height="14"/>
<text transform="translate(1800.48 2674.73) scale(1.99 1)">97</text>
<rect x="1752.01" y="2716.88" width="49.2" height="14"/>
<text transform="translate(1776.61 2729.33) scale(1.99 1)">100</text>
<rect x="1811.69" y="2698.68" width="49.2" height="14"/>
<text transform="translate(1836.29 2711.13) scale(1.99 1)">100</text>
<rect x="1818.99" y="2735.09" width="34.6" height="14"/>
<text transform="translate(1836.29 2747.54) scale(1.99 1)">59</text>
<rect x="1520.59" y="2948.12" width="34.6" height="14"/>
<text transform="translate(1537.89 2960.57) scale(1.99 1)">11</text>
<rect x="1580.27" y="2786.85" width="34.6" height="14"/>
<text transform="translate(1597.57 2799.3) scale(1.99 1)">14</text>
<rect x="1639.95" y="2811.31" width="34.6" height="14"/>
<text transform="translate(1657.25 2823.76) scale(1.99 1)">95</text>
<rect x="1747.38" y="2789.7" width="34.6" height="14"/>
<text transform="translate(1764.68 2802.15) scale(1.99 1)">92</text>
<rect x="1699.63" y="2832.93" width="34.6" height="14"/>
<text transform="translate(1716.93 2845.38) scale(1.99 1)">96</text>
<rect x="1759.31" y="2848.85" width="34.6" height="14"/>
<text transform="translate(1776.61 2861.3) scale(1.99 1)">89</text>
<rect x="1811.69" y="2862.51" width="49.2" height="14"/>
<text transform="translate(1836.29 2874.96) scale(1.99 1)">100</text>
<rect x="1604.14" y="3109.38" width="34.6" height="14"/>
<text transform="translate(1621.44 3121.83) scale(1.99 1)">10</text>
<rect x="1754.68" y="2898.91" width="20" height="14"/>
<text transform="translate(1764.68 2911.36) scale(1.99 1)">5</text>
<rect x="1754.68" y="2935.32" width="20" height="14"/>
<text transform="translate(1764.68 2947.77) scale(1.99 1)">3</text>
<rect x="1754.68" y="2971.72" width="20" height="14"/>
<text transform="translate(1764.68 2984.17) scale(1.99 1)">4</text>
<rect x="1747.38" y="3008.13" width="34.6" height="14"/>
<text transform="translate(1764.68 3020.58) scale(1.99 1)">40</text>
<rect x="1747.38" y="3044.53" width="34.6" height="14"/>
<text transform="translate(1764.68 3056.98) scale(1.99 1)">22</text>
<rect x="1754.68" y="3080.94" width="20" height="14"/>
<text transform="translate(1764.68 3093.39) scale(1.99 1)">2</text>
<rect x="1723.5" y="3121.9" width="34.6" height="14"/>
<text transform="translate(1740.8 3134.35) scale(1.99 1)">30</text>
<rect x="1818.99" y="3135.55" width="34.6" height="14"/>
<text transform="translate(1836.29 3148) scale(1.99 1)">74</text>
<rect x="1723.5" y="3176.5" width="34.6" height="14"/>
<text transform="translate(1740.8 3188.95) scale(1.99 1)">25</text>
<rect x="1811.69" y="3190.16" width="49.2" height="14"/>
<text transform="translate(1836.29 3202.61) scale(1.99 1)">100</text>
<rect x="1723.5" y="3244.76" width="34.6" height="14"/>
<text transform="translate(1740.8 3257.21) scale(1.99 1)">42</text>
<rect x="1818.99" y="3226.56" width="34.6" height="14"/>
<text transform="translate(1836.29 3239.01) scale(1.99 1)">97</text>
<rect x="1811.69" y="3262.97" width="49.2" height="14"/>
<text transform="translate(1836.29 3275.42) scale(1.99 1)">100</text>
<rect x="1706.93" y="3319.85" width="20" height="14"/>
<text transform="translate(1716.93 3332.3) scale(1.99 1)">3</text>
<rect x="1783.18" y="3299.37" width="34.6" height="14"/>
<text transform="translate(1800.48 3311.82) scale(1.99 1)">81</text>
<rect x="1759.31" y="3340.33" width="34.6" height="14"/>
<text transform="translate(1776.61 3352.78) scale(1.99 1)">90</text>
<rect x="1811.69" y="3353.98" width="49.2" height="14"/>
<text transform="translate(1836.29 3366.43) scale(1.99 1)">100</text>
<rect x="1102.83" y="3733.29" width="34.6" height="14"/>
<text transform="translate(1120.13 3745.74) scale(1.99 1)">10</text>
<rect x="1186.38" y="3459.15" width="34.6" height="14"/>
<text transform="translate(1203.68 3471.6) scale(1.99 1)">10</text>
<rect x="1448.98" y="3410.86" width="34.6" height="14"/>
<text transform="translate(1466.28 3423.31) scale(1.99 1)">14</text>
<rect x="1783.18" y="3390.39" width="34.6" height="14"/>
<text transform="translate(1800.48 3402.84) scale(1.99 1)">64</text>
<rect x="1759.31" y="3431.34" width="34.6" height="14"/>
<text transform="translate(1776.61 3443.79) scale(1.99 1)">64</text>
<rect x="1818.99" y="3444.99" width="34.6" height="14"/>
<text transform="translate(1836.29 3457.44) scale(1.99 1)">55</text>
<rect x="1281.87" y="3507.43" width="34.6" height="14"/>
<text transform="translate(1299.17 3519.88) scale(1.99 1)">13</text>
<rect x="1532.53" y="3481.4" width="34.6" height="14"/>
<text transform="translate(1549.83 3493.85) scale(1.99 1)">28</text>
<rect x="1341.55" y="3533.46" width="34.6" height="14"/>
<text transform="translate(1358.85 3545.91) scale(1.99 1)">25</text>
<rect x="1401.23" y="3558.19" width="34.6" height="14"/>
<text transform="translate(1418.53 3570.64) scale(1.99 1)">34</text>
<rect x="1460.91" y="3589.44" width="34.6" height="14"/>
<text transform="translate(1478.21 3601.89) scale(1.99 1)">31</text>
<rect x="1639.95" y="3554.28" width="34.6" height="14"/>
<text transform="translate(1657.25 3566.73) scale(1.99 1)">16</text>
<rect x="1520.59" y="3624.6" width="34.6" height="14"/>
<text transform="translate(1537.89 3637.05) scale(1.99 1)">21</text>
<rect x="1651.89" y="3595.27" width="34.6" height="14"/>
<text transform="translate(1669.19 3607.72) scale(1.99 1)">41</text>
<rect x="1818.99" y="3608.94" width="34.6" height="14"/>
<text transform="translate(1836.29 3621.39) scale(1.99 1)">67</text>
<rect x="1580.27" y="3653.92" width="34.6" height="14"/>
<text transform="translate(1597.57 3666.37) scale(1.99 1)">53</text>
<rect x="1639.95" y="3671.57" width="34.6" height="14"/>
<text transform="translate(1657.25 3684.02) scale(1.99 1)">59</text>
<rect x="1699.63" y="3688.65" width="34.6" height="14"/>
<text transform="translate(1716.93 3701.1) scale(1.99 1)">57</text>
<rect x="1752.01" y="3704.59" width="49.2" height="14"/>
<text transform="translate(1776.61 3717.04) scale(1.99 1)">100</text>
<rect x="1811.69" y="3718.26" width="49.2" height="14"/>
<text transform="translate(1836.29 3730.71) scale(1.99 1)">100</text>
<rect x="1162.51" y="4007.43" width="34.6" height="14"/>
<text transform="translate(1179.81 4019.88) scale(1.99 1)">10</text>
<rect x="1341.55" y="3824.16" width="34.6" height="14"/>
<text transform="translate(1358.85 3836.61) scale(1.99 1)">11</text>
<rect x="1628.02" y="3768.36" width="34.6" height="14"/>
<text transform="translate(1645.32 3780.81) scale(1.99 1)">27</text>
<rect x="1759.31" y="3791.13" width="34.6" height="14"/>
<text transform="translate(1776.61 3803.58) scale(1.99 1)">42</text>
<rect x="1811.69" y="3772.91" width="49.2" height="14"/>
<text transform="translate(1836.29 3785.36) scale(1.99 1)">100</text>
<rect x="1818.99" y="3809.35" width="34.6" height="14"/>
<text transform="translate(1836.29 3821.8) scale(1.99 1)">93</text>
<rect x="1587.57" y="3879.96" width="20" height="14"/>
<text transform="translate(1597.57 3892.41) scale(1.99 1)">7</text>
<rect x="1711.57" y="3845.79" width="34.6" height="14"/>
<text transform="translate(1728.87 3858.24) scale(1.99 1)">11</text>
<rect x="1647.25" y="3914.12" width="20" height="14"/>
<text transform="translate(1657.25 3926.57) scale(1.99 1)">8</text>
<rect x="1747.38" y="3882.23" width="34.6" height="14"/>
<text transform="translate(1764.68 3894.68) scale(1.99 1)">99</text>
<rect x="1699.63" y="3946" width="34.6" height="14"/>
<text transform="translate(1716.93 3958.45) scale(1.99 1)">12</text>
<rect x="1783.18" y="3918.67" width="34.6" height="14"/>
<text transform="translate(1800.48 3931.12) scale(1.99 1)">21</text>
<rect x="1759.31" y="3973.33" width="34.6" height="14"/>
<text transform="translate(1776.61 3985.78) scale(1.99 1)">11</text>
<rect x="1818.99" y="3955.11" width="34.6" height="14"/>
<text transform="translate(1836.29 3967.56) scale(1.99 1)">39</text>
<rect x="1811.69" y="3991.55" width="49.2" height="14"/>
<text transform="translate(1836.29 4004) scale(1.99 1)">100</text>
<rect x="1222.19" y="4190.7" width="34.6" height="14"/>
<text transform="translate(1239.49 4203.15) scale(1.99 1)">11</text>
<rect x="1336.92" y="4063.08" width="20" height="14"/>
<text transform="translate(1346.92 4075.53) scale(1.99 1)">4</text>
<rect x="1611.44" y="4027.99" width="20" height="14"/>
<text transform="translate(1621.44 4040.44) scale(1.99 1)">4</text>
<rect x="1468.21" y="4098.16" width="20" height="14"/>
<text transform="translate(1478.21 4110.61) scale(1.99 1)">9</text>
<rect x="1639.95" y="4064.43" width="34.6" height="14"/>
<text transform="translate(1657.25 4076.88) scale(1.99 1)">11</text>
<rect x="1520.59" y="4131.9" width="34.6" height="14"/>
<text transform="translate(1537.89 4144.35) scale(1.99 1)">13</text>
<rect x="1675.76" y="4100.87" width="34.6" height="14"/>
<text transform="translate(1693.06 4113.32) scale(1.99 1)">27</text>
<rect x="1580.27" y="4162.93" width="34.6" height="14"/>
<text transform="translate(1597.57 4175.38) scale(1.99 1)">16</text>
<rect x="1711.57" y="4137.31" width="34.6" height="14"/>
<text transform="translate(1728.87 4149.76) scale(1.99 1)">34</text>
<rect x="1639.95" y="4188.55" width="34.6" height="14"/>
<text transform="translate(1657.25 4201) scale(1.99 1)">17</text>
<rect x="1699.63" y="4212.46" width="34.6" height="14"/>
<text transform="translate(1716.93 4224.91) scale(1.99 1)">37</text>
<rect x="1783.18" y="4191.97" width="34.6" height="14"/>
<text transform="translate(1800.48 4204.42) scale(1.99 1)">99</text>
<rect x="1759.31" y="4232.96" width="34.6" height="14"/>
<text transform="translate(1776.61 4245.41) scale(1.99 1)">37</text>
<rect x="1811.69" y="4246.63" width="49.2" height="14"/>
<text transform="translate(1836.29 4259.08) scale(1.99 1)">100</text>
<rect x="1281.87" y="4318.33" width="34.6" height="14"/>
<text transform="translate(1299.17 4330.78) scale(1.99 1)">11</text>
<rect x="1539.83" y="4283.07" width="20" height="14"/>
<text transform="translate(1549.83 4295.52) scale(1.99 1)">9</text>
<rect x="1348.85" y="4353.6" width="20" height="14"/>
<text transform="translate(1358.85 4366.05) scale(1.99 1)">9</text>
<rect x="1575.64" y="4319.51" width="20" height="14"/>
<text transform="translate(1585.64 4331.96) scale(1.99 1)">7</text>
<rect x="1401.23" y="4387.69" width="34.6" height="14"/>
<text transform="translate(1418.53 4400.14) scale(1.99 1)">10</text>
<rect x="1604.14" y="4355.94" width="34.6" height="14"/>
<text transform="translate(1621.44 4368.39) scale(1.99 1)">12</text>
<rect x="1460.91" y="4419.43" width="34.6" height="14"/>
<text transform="translate(1478.21 4431.88) scale(1.99 1)">21</text>
<rect x="1520.59" y="4455.58" width="34.6" height="14"/>
<text transform="translate(1537.89 4468.03) scale(1.99 1)">35</text>
<rect x="1651.89" y="4415.16" width="34.6" height="14"/>
<text transform="translate(1669.19 4427.61) scale(1.99 1)">48</text>
<rect x="1818.99" y="4428.82" width="34.6" height="14"/>
<text transform="translate(1836.29 4441.27) scale(1.99 1)">98</text>
<rect x="1580.27" y="4496.01" width="34.6" height="14"/>
<text transform="translate(1597.57 4508.46) scale(1.99 1)">40</text>
<rect x="1711.57" y="4465.26" width="34.6" height="14"/>
<text transform="translate(1728.87 4477.71) scale(1.99 1)">25</text>
<rect x="1639.95" y="4526.75" width="34.6" height="14"/>
<text transform="translate(1657.25 4539.2) scale(1.99 1)">25</text>
<rect x="1747.38" y="4501.7" width="34.6" height="14"/>
<text transform="translate(1764.68 4514.15) scale(1.99 1)">16</text>
<rect x="1699.63" y="4551.81" width="34.6" height="14"/>
<text transform="translate(1716.93 4564.26) scale(1.99 1)">20</text>
<rect x="1759.31" y="4574.58" width="34.6" height="14"/>
<text transform="translate(1776.61 4587.03) scale(1.99 1)">24</text>
<rect x="1818.99" y="4556.36" width="34.6" height="14"/>
<text transform="translate(1836.29 4568.81) scale(1.99 1)">29</text>
<rect x="1818.99" y="4592.8" width="34.6" height="14"/>
<text transform="translate(1836.29 4605.25) scale(1.99 1)">51</text>
</g>
<g fill="#3c3c3c">
<rect x="1971.8" y="32" width="1.8" height="80.3"/>
<rect x="1969.2" y="138.3" width="1.8" height="123.7"/>
<rect x="1971.8" y="281" width="1.8" height="143.7"/>
<rect x="1974.1" y="451" width="1.8" height="100"/>
<rect x="1974.1" y="572" width="1.8" height="108.2"/>
<rect x="1968.1" y="701.6" width="1.8" height="1185.4"/>
<rect x="1983.9" y="704" width="1.8" height="489.4"/>
<rect x="1983.9" y="1208.4" width="1.8" height="93.1"/>
<rect x="1986.5" y="1319.7" width="1.8" height="161.6"/>
<rect x="1983.9" y="1499" width="1.8" height="390"/>
<rect x="1971.8" y="1900.1" width="1.8" height="88.5"/>
<rect x="1971.8" y="2006.6" width="1.8" height="28.4"/>
<rect x="1971.8" y="2045.9" width="1.8" height="25.6"/>
<rect x="1971.8" y="2085.4" width="1.8" height="108.6"/>
<rect x="1974.3" y="2217" width="1.8" height="2378.7"/>
</g>
<g class="cl">
<text x="2011.7" y="93" textLength="292.7" lengthAdjust="spacingAndGlyphs">Cluster-I</text>
<text x="2007.7" y="209.2" textLength="299.3" lengthAdjust="spacingAndGlyphs">Cluster-II</text>
<text x="2005.2" y="356" textLength="318.8" lengthAdjust="spacingAndGlyphs">Cluster-III</text>
<text x="2004.1" y="509.5" textLength="327.9" lengthAdjust="spacingAndGlyphs">Cluster-IV</text>
<text x="2006" y="635.8" textLength="317" lengthAdjust="spacingAndGlyphs">Cluster-V</text>
<text x="2010.5" y="974.9" textLength="334.2" lengthAdjust="spacingAndGlyphs">Cluster-VI</text>
<text x="2015.4" y="1260.5" textLength="359.4" lengthAdjust="spacingAndGlyphs">Cluster-VII</text>
<text x="2015.4" y="1414.3" textLength="384.3" lengthAdjust="spacingAndGlyphs">Cluster-VIII</text>
<text x="2010.5" y="1691.6" textLength="328.9" lengthAdjust="spacingAndGlyphs">Cluster-IX</text>
<text x="2010.5" y="1950" textLength="307" lengthAdjust="spacingAndGlyphs">Cluster-X</text>
<text x="2006" y="2028.5" textLength="334" lengthAdjust="spacingAndGlyphs">Cluster-XI</text>
<text x="2006" y="2067.3" textLength="353.7" lengthAdjust="spacingAndGlyphs">Cluster-XII</text>
<text x="2002.2" y="2142.7" textLength="385.1" lengthAdjust="spacingAndGlyphs">Cluster-XIII</text>
<text x="2011.7" y="3339.4" textLength="385" lengthAdjust="spacingAndGlyphs">Cluster-XIV</text>
</g>
</svg>
</body>
</html>
